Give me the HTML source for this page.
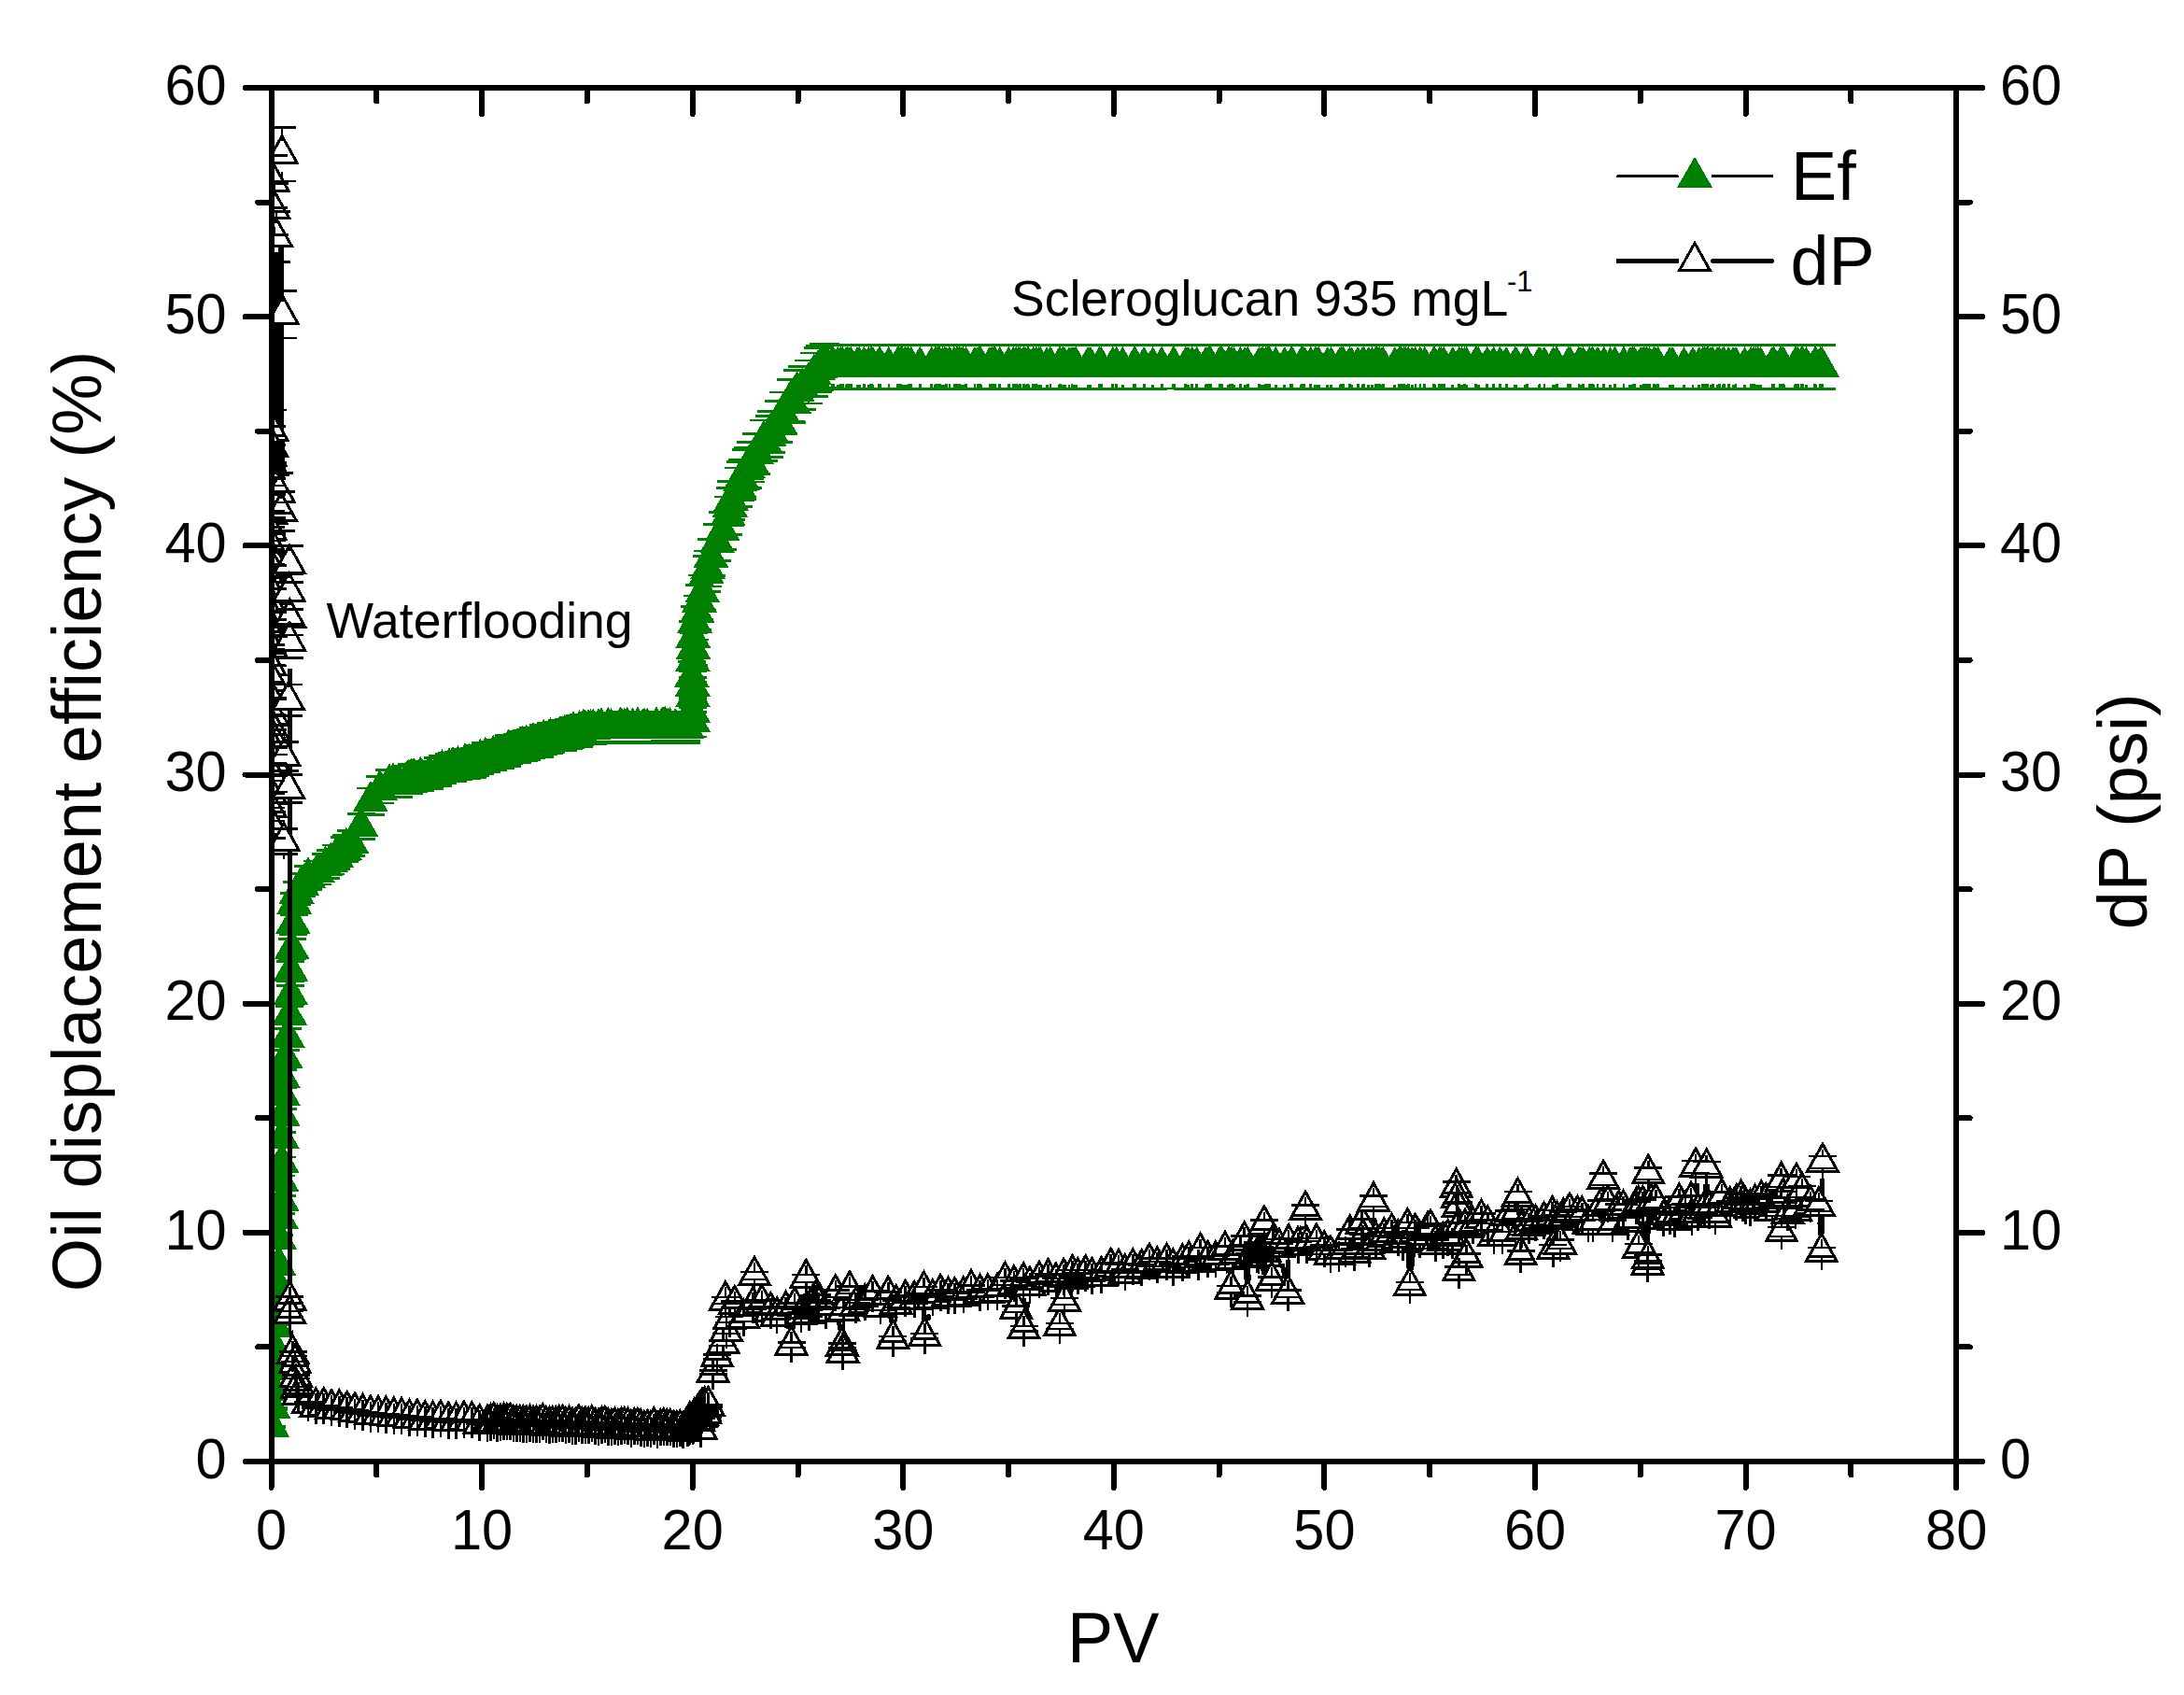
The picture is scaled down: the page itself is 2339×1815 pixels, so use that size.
<!DOCTYPE html>
<html lang="en"><head><meta charset="utf-8"><title>Oil displacement efficiency and dP vs PV</title>
<style>html,body{margin:0;padding:0;background:#fff}svg{display:block}</style></head>
<body>
<svg width="2339" height="1815" viewBox="0 0 2339 1815" shape-rendering="crispEdges">
<rect width="2339" height="1815" fill="#fff"/>
<defs><clipPath id="c"><rect x="290.5" y="94" width="1804.7" height="1471"/></clipPath></defs>
<g clip-path="url(#c)">
<path d="M291.4 1506.2l19 33h-38zM292.6 1486.4l19 33h-38zM293.2 1467.3l19 33h-38zM293.4 1445.3l19 33h-38zM294.3 1421.9l19 33h-38zM295.2 1399.3l19 33h-38zM296.4 1380l19 33h-38zM297 1353.5l19 33h-38zM298.4 1332.9l19 33h-38zM299.4 1305.3l19 33h-38zM301 1283l19 33h-38zM301.8 1264.1l19 33h-38zM301.4 1242.9l19 33h-38zM301.8 1223.4l19 33h-38zM301.9 1197l19 33h-38zM302.7 1172.9l19 33h-38zM302.8 1150.8l19 33h-38zM302.8 1131.8l19 33h-38zM305.8 1111.4l19 33h-38zM307.8 1088.8l19 33h-38zM310.1 1064.7l19 33h-38zM311.3 1043.4l19 33h-38zM311.4 1018.1l19 33h-38zM312.6 994.1l19 33h-38zM313.8 967.2l19 33h-38zM315.2 945.9l19 33h-38zM317.6 934.6l19 33h-38zM323.2 925.7l19 33h-38zM330 917.6l19 33h-38zM340.1 912.4l19 33h-38zM348.7 905.4l19 33h-38zM354.3 901.2l19 33h-38zM360 895.7l19 33h-38zM368.6 887.6l19 33h-38zM370.8 885.4l19 33h-38zM376.4 881l19 33h-38zM386.6 863.2l19 33h-38zM396.8 836.1l19 33h-38zM406.9 823.7l19 33h-38zM417.1 817.2l19 33h-38zM421.1 816.4l19 33h-38zM426.8 816.7l19 33h-38zM436.2 813.4l19 33h-38zM437.8 812.6l19 33h-38zM440.7 811.2l19 33h-38zM443 810.7l19 33h-38zM450.4 809.6l19 33h-38zM459.9 807.9l19 33h-38zM469.4 804.5l19 33h-38zM473.5 802.2l19 33h-38zM480.9 800.2l19 33h-38zM485 799.5l19 33h-38zM490.6 798l19 33h-38zM498 795.3l19 33h-38zM500.3 796.9l19 33h-38zM502.6 795.9l19 33h-38zM505.5 795.5l19 33h-38zM507.7 794.1l19 33h-38zM508.6 794.1l19 33h-38zM514.3 791.1l19 33h-38zM519.9 788.5l19 33h-38zM520.8 789.4l19 33h-38zM528.3 787.1l19 33h-38zM535.7 785.4l19 33h-38zM543.2 783.1l19 33h-38zM544.7 780.3l19 33h-38zM554.2 779.3l19 33h-38zM559.9 776.8l19 33h-38zM561.4 777.8l19 33h-38zM563.7 775.9l19 33h-38zM569.3 774.2l19 33h-38zM570.9 773.1l19 33h-38zM578.3 772.9l19 33h-38zM582.4 769.9l19 33h-38zM588 769.6l19 33h-38zM589.6 768.2l19 33h-38zM599.1 766.6l19 33h-38zM603.2 766.5l19 33h-38zM604.7 764.5l19 33h-38zM608.8 764.1l19 33h-38zM611.1 763.4l19 33h-38zM614 761.6l19 33h-38zM619.6 762.1l19 33h-38zM620.5 760.4l19 33h-38zM624.6 758.8l19 33h-38zM626.2 759.1l19 33h-38zM630.2 759.1l19 33h-38zM632.5 759.3l19 33h-38zM635.4 758.7l19 33h-38zM641.1 758l19 33h-38zM644 757.3l19 33h-38zM651.4 756.9l19 33h-38zM654.4 758.2l19 33h-38zM663.8 757.8l19 33h-38zM664.7 756.2l19 33h-38zM668.8 757.5l19 33h-38zM671.7 756.9l19 33h-38zM677.4 757.5l19 33h-38zM683 756.2l19 33h-38zM688.7 758.3l19 33h-38zM690.2 757.9l19 33h-38zM693.2 757.7l19 33h-38zM702.6 756.9l19 33h-38zM703.6 757.2l19 33h-38zM709.2 756.4l19 33h-38zM710.8 756.3l19 33h-38zM712.3 756.1l19 33h-38zM715.3 757.2l19 33h-38zM717.5 757.3l19 33h-38zM723.2 758.1l19 33h-38zM730.6 757.1l19 33h-38zM732.2 756.5l19 33h-38zM734.5 755.8l19 33h-38zM735.4 757.9l19 33h-38zM742.2 751.1l19 33h-38zM742.3 741.3l19 33h-38zM742 724.3l19 33h-38zM741.8 712.7l19 33h-38zM740.8 703l19 33h-38zM741.9 686.1l19 33h-38zM742.5 673l19 33h-38zM742.3 660.7l19 33h-38zM744 645l19 33h-38zM746.6 634.1l19 33h-38zM748.9 622.6l19 33h-38zM752.3 612.4l19 33h-38zM756.8 592.3l19 33h-38zM758.1 587l19 33h-38zM761.5 574.8l19 33h-38zM768.3 559l19 33h-38zM773.9 546.2l19 33h-38zM779.6 530.1l19 33h-38zM781.8 520.5l19 33h-38zM783.2 514l19 33h-38zM791.3 499.7l19 33h-38zM792.7 493.1l19 33h-38zM794.9 491.5l19 33h-38zM799.4 480.9l19 33h-38zM800.8 479l19 33h-38zM804.2 472.6l19 33h-38zM809.8 463.8l19 33h-38zM817.9 449.7l19 33h-38zM823.6 445.4l19 33h-38zM825.8 440.6l19 33h-38zM833.9 429.6l19 33h-38zM838.5 420.4l19 33h-38zM846.6 406.8l19 33h-38zM847.9 407.5l19 33h-38zM853.6 397.1l19 33h-38zM859.2 393.4l19 33h-38zM866 387l19 33h-38zM871.6 379l19 33h-38zM876.1 374l19 33h-38zM878.4 372l19 33h-38zM881.8 369.9l19 33h-38zM884 369.8l19 33h-38zM886.1 370.9l19 33h-38zM891 370.9l19 33h-38zM892.4 370.8l19 33h-38zM897.3 371.1l19 33h-38zM900.3 370.7l19 33h-38zM902.1 370.6l19 33h-38zM905.9 371.1l19 33h-38zM907.7 370.6l19 33h-38zM910 370.7l19 33h-38zM911.3 370.9l19 33h-38zM918.1 371.1l19 33h-38zM920.3 371.1l19 33h-38zM925.3 370.6l19 33h-38zM930.3 371l19 33h-38zM932.5 370.9l19 33h-38zM933.9 370.7l19 33h-38zM934.8 371l19 33h-38zM941.5 370.9l19 33h-38zM942.4 370.9l19 33h-38zM951.9 370.8l19 33h-38zM961.4 370.6l19 33h-38zM962.8 370.6l19 33h-38zM965 370.6l19 33h-38zM966.4 371.1l19 33h-38zM969.3 371.1l19 33h-38zM971.1 371l19 33h-38zM972.9 370.7l19 33h-38zM975.8 370.9l19 33h-38zM985.3 370.6l19 33h-38zM997.7 370.9l19 33h-38zM1001.6 371.1l19 33h-38zM1002.5 370.7l19 33h-38zM1004.3 370.9l19 33h-38zM1005.6 371l19 33h-38zM1006.5 370.8l19 33h-38zM1009.4 371.1l19 33h-38zM1011.7 371.1l19 33h-38zM1013.1 370.9l19 33h-38zM1016.9 370.6l19 33h-38zM1021.9 370.6l19 33h-38zM1024.8 370.8l19 33h-38zM1025.7 370.8l19 33h-38zM1027.9 370.6l19 33h-38zM1029.8 371l19 33h-38zM1031.6 371l19 33h-38zM1034.5 370.8l19 33h-38zM1044 370.7l19 33h-38zM1046.9 370.9l19 33h-38zM1048.7 371l19 33h-38zM1049.6 370.6l19 33h-38zM1050.5 371.1l19 33h-38zM1060 370.8l19 33h-38zM1062.2 370.8l19 33h-38zM1064.5 370.6l19 33h-38zM1065.8 370.8l19 33h-38zM1070.8 370.8l19 33h-38zM1080.3 370.7l19 33h-38zM1085.2 370.6l19 33h-38zM1088.2 370.7l19 33h-38zM1090.4 371l19 33h-38zM1092.2 370.9l19 33h-38zM1096.1 370.6l19 33h-38zM1097.9 371.1l19 33h-38zM1100.8 370.9l19 33h-38zM1101.7 371.1l19 33h-38zM1106.7 370.6l19 33h-38zM1109.6 370.8l19 33h-38zM1112.5 371.1l19 33h-38zM1114.3 371.1l19 33h-38zM1121.1 371.2l19 33h-38zM1124.9 370.6l19 33h-38zM1134.4 371l19 33h-38zM1135.3 370.6l19 33h-38zM1138.3 371l19 33h-38zM1140.1 371.2l19 33h-38zM1145 371.1l19 33h-38zM1148 370.9l19 33h-38zM1150.2 371l19 33h-38zM1151.1 371.1l19 33h-38zM1152.5 371.1l19 33h-38zM1164.9 371.1l19 33h-38zM1165.8 371l19 33h-38zM1168 371.1l19 33h-38zM1177.5 370.7l19 33h-38zM1179.3 370.8l19 33h-38zM1191.7 370.9l19 33h-38zM1195.6 370.7l19 33h-38zM1202.3 371.1l19 33h-38zM1214.7 370.8l19 33h-38zM1215.6 370.7l19 33h-38zM1225.1 370.8l19 33h-38zM1234.6 371.1l19 33h-38zM1244.1 370.7l19 33h-38zM1256.5 370.7l19 33h-38zM1257.4 370.7l19 33h-38zM1269.8 370.7l19 33h-38zM1272 371.1l19 33h-38zM1272.9 371.1l19 33h-38zM1276.8 370.6l19 33h-38zM1281.7 370.7l19 33h-38zM1291.2 371.1l19 33h-38zM1292.1 370.8l19 33h-38zM1294.4 370.9l19 33h-38zM1295.3 370.9l19 33h-38zM1296.6 370.7l19 33h-38zM1306.1 370.6l19 33h-38zM1307.4 370.8l19 33h-38zM1308.8 370.7l19 33h-38zM1315.6 371l19 33h-38zM1316.9 370.7l19 33h-38zM1319.2 370.7l19 33h-38zM1321.4 371l19 33h-38zM1328.2 370.9l19 33h-38zM1333.2 371.1l19 33h-38zM1336.1 370.7l19 33h-38zM1348.5 370.8l19 33h-38zM1350.8 371.1l19 33h-38zM1352.6 371l19 33h-38zM1355.5 370.8l19 33h-38zM1357.3 371.1l19 33h-38zM1358.2 370.9l19 33h-38zM1359.6 370.7l19 33h-38zM1366.3 371l19 33h-38zM1375.8 371l19 33h-38zM1382.6 370.9l19 33h-38zM1383.9 370.6l19 33h-38zM1393.4 371l19 33h-38zM1394.8 370.6l19 33h-38zM1395.7 371l19 33h-38zM1397 370.7l19 33h-38zM1403.8 370.6l19 33h-38zM1408.7 371l19 33h-38zM1411 371.1l19 33h-38zM1412.3 371.1l19 33h-38zM1421.8 371l19 33h-38zM1425.7 371.1l19 33h-38zM1435.1 371l19 33h-38zM1436.5 370.7l19 33h-38zM1438.7 370.9l19 33h-38zM1445.5 370.9l19 33h-38zM1447.3 371.2l19 33h-38zM1454.1 370.8l19 33h-38zM1459 371l19 33h-38zM1460.8 370.9l19 33h-38zM1465.8 371l19 33h-38zM1469.6 371.2l19 33h-38zM1473.5 370.7l19 33h-38zM1474.8 370.6l19 33h-38zM1477.1 370.7l19 33h-38zM1480 371l19 33h-38zM1481.4 370.9l19 33h-38zM1493.8 371.1l19 33h-38zM1498.7 370.7l19 33h-38zM1499.6 371l19 33h-38zM1500.6 370.7l19 33h-38zM1503.5 370.8l19 33h-38zM1505.3 371l19 33h-38zM1508.2 370.9l19 33h-38zM1512.1 371l19 33h-38zM1515.9 370.7l19 33h-38zM1520.9 370.6l19 33h-38zM1525.8 370.6l19 33h-38zM1535.3 370.8l19 33h-38zM1536.6 371.1l19 33h-38zM1541.6 370.9l19 33h-38zM1543.4 370.8l19 33h-38zM1546.3 370.9l19 33h-38zM1555.8 371.1l19 33h-38zM1562.6 370.9l19 33h-38zM1565.5 371l19 33h-38zM1568.5 370.9l19 33h-38zM1570.7 371l19 33h-38zM1580.2 370.8l19 33h-38zM1581.5 371.1l19 33h-38zM1583.3 371.1l19 33h-38zM1592.8 370.6l19 33h-38zM1599.6 370.8l19 33h-38zM1606.4 370.6l19 33h-38zM1613.1 370.9l19 33h-38zM1622.6 371l19 33h-38zM1623.9 371l19 33h-38zM1633.4 371.1l19 33h-38zM1635.7 370.9l19 33h-38zM1648.1 371l19 33h-38zM1649 370.7l19 33h-38zM1654 370.9l19 33h-38zM1663.4 371l19 33h-38zM1666.4 371l19 33h-38zM1667.3 370.9l19 33h-38zM1679.7 370.6l19 33h-38zM1681.5 370.7l19 33h-38zM1690.9 370.8l19 33h-38zM1693.2 371.1l19 33h-38zM1695.5 370.9l19 33h-38zM1702.2 370.9l19 33h-38zM1705.2 370.7l19 33h-38zM1706.1 371.1l19 33h-38zM1711 370.7l19 33h-38zM1717.8 370.6l19 33h-38zM1724.6 371.2l19 33h-38zM1729.5 370.6l19 33h-38zM1739 370.6l19 33h-38zM1745.8 371l19 33h-38zM1747.1 371l19 33h-38zM1748.9 370.8l19 33h-38zM1750.3 370.6l19 33h-38zM1757 371.1l19 33h-38zM1757.9 371.2l19 33h-38zM1759.8 371l19 33h-38zM1760.7 370.8l19 33h-38zM1763.6 370.6l19 33h-38zM1766.5 370.8l19 33h-38zM1771.5 370.7l19 33h-38zM1772.8 371.1l19 33h-38zM1775.8 370.8l19 33h-38zM1788.2 371l19 33h-38zM1791.1 371l19 33h-38zM1803.5 371.2l19 33h-38zM1813 371l19 33h-38zM1819.8 371l19 33h-38zM1823.6 370.8l19 33h-38zM1825.8 370.9l19 33h-38zM1828.1 370.8l19 33h-38zM1829 370.6l19 33h-38zM1831.9 371.1l19 33h-38zM1834.2 370.9l19 33h-38zM1839.2 371.1l19 33h-38zM1841.4 370.8l19 33h-38zM1845.2 371l19 33h-38zM1846.2 370.7l19 33h-38zM1851.1 370.9l19 33h-38zM1856.1 371l19 33h-38zM1859 370.7l19 33h-38zM1868.5 371.1l19 33h-38zM1875.3 370.6l19 33h-38zM1878.2 370.7l19 33h-38zM1880.4 371l19 33h-38zM1882.7 371l19 33h-38zM1885.6 371.1l19 33h-38zM1898 370.9l19 33h-38zM1899.8 370.6l19 33h-38zM1906.6 370.9l19 33h-38zM1907.5 370.6l19 33h-38zM1909.3 370.6l19 33h-38zM1910.2 371l19 33h-38zM1922.6 371.1l19 33h-38zM1923.5 370.7l19 33h-38zM1925.3 370.9l19 33h-38zM1929.2 370.7l19 33h-38zM1930.5 370.6l19 33h-38zM1934.4 371l19 33h-38zM1943.8 370.7l19 33h-38zM1944.7 371l19 33h-38zM1949.7 370.7l19 33h-38zM1951.3 370.9l19 33h-38z" fill="#008000"/>
<path d="M276.4 1527.5h30M276.4 1529h30M277.6 1507.2h30M277.6 1509.5h30M278.2 1487.8h30M278.2 1490.8h30M278.4 1465.3h30M278.4 1469.2h30M279.3 1441.5h30M279.3 1446.3h30M280.2 1418.4h30M280.2 1424.1h30M281.4 1398.8h30M281.4 1405.2h30M282 1371.7h30M282 1379.3h30M283.4 1350.8h30M283.4 1359.1h30M284.4 1322.5h30M284.4 1332h30M286 1299.8h30M286 1310.1h30M286.8 1280.6h30M286.8 1291.7h30M286.4 1258.9h30M286.4 1270.9h30M286.8 1239h30M286.8 1251.7h30M286.9 1212.1h30M286.9 1225.9h30M287.7 1187.5h30M287.7 1202.2h30M287.8 1165h30M287.8 1180.6h30M287.8 1145.7h30M287.8 1162h30M290.8 1124.8h30M290.8 1142h30M292.8 1101.8h30M292.8 1119.9h30M295.1 1077.2h30M295.1 1096.2h30M296.3 1055.4h30M296.3 1075.3h30M296.4 1029.7h30M296.4 1050.6h30M297.6 1005.2h30M297.6 1027h30M298.8 977.7h30M298.8 1000.6h30M300.2 956.1h30M300.2 979.8h30M302.6 944.5h30M302.6 968.7h30M308.2 935.4h30M308.2 960h30M315 927.2h30M315 952.1h30M325.1 921.9h30M325.1 947h30M333.7 914.7h30M333.7 940.1h30M339.3 910.4h30M339.3 935.9h30M345 904.9h30M345 930.6h30M353.6 896.6h30M353.6 922.6h30M355.8 894.3h30M355.8 920.5h30M361.4 889.8h30M361.4 916.2h30M371.6 871.6h30M371.6 898.7h30M381.8 844h30M381.8 872.2h30M391.9 831.4h30M391.9 860h30M402.1 824.8h30M402.1 853.6h30M406.1 824h30M406.1 852.9h30M411.8 824.2h30M411.8 853.1h30M421.2 820.9h30M421.2 849.9h30M422.8 820.1h30M422.8 849.2h30M425.7 818.7h30M425.7 847.8h30M428 818.1h30M428 847.3h30M435.4 817h30M435.4 846.2h30M444.9 815.2h30M444.9 844.5h30M454.4 811.8h30M454.4 841.2h30M458.5 809.5h30M458.5 839h30M465.9 807.5h30M465.9 837h30M470 806.7h30M470 836.3h30M475.6 805.2h30M475.6 834.9h30M483 802.5h30M483 832.2h30M485.3 804h30M485.3 833.7h30M487.6 803h30M487.6 832.8h30M490.5 802.6h30M490.5 832.4h30M492.7 801.2h30M492.7 831h30M493.6 801.2h30M493.6 831h30M499.3 798.2h30M499.3 828.1h30M504.9 795.5h30M504.9 825.5h30M505.8 796.4h30M505.8 826.4h30M513.3 794.1h30M513.3 824.1h30M520.7 792.3h30M520.7 822.5h30M528.2 790h30M528.2 820.2h30M529.7 787.1h30M529.7 817.5h30M539.2 786.2h30M539.2 816.5h30M544.9 783.5h30M544.9 814h30M546.4 784.6h30M546.4 815h30M548.7 782.6h30M548.7 813.2h30M554.3 780.9h30M554.3 811.5h30M555.9 779.8h30M555.9 810.5h30M563.3 779.6h30M563.3 810.3h30M567.4 776.5h30M567.4 807.3h30M573 776.2h30M573 806.9h30M574.6 774.8h30M574.6 805.6h30M584.1 773.1h30M584.1 804h30M588.2 773h30M588.2 803.9h30M589.7 771h30M589.7 801.9h30M593.8 770.6h30M593.8 801.6h30M596.1 769.9h30M596.1 800.9h30M599 768h30M599 799.1h30M604.6 768.6h30M604.6 799.6h30M605.5 766.8h30M605.5 798h30M609.6 765.2h30M609.6 796.4h30M611.2 765.5h30M611.2 796.7h30M615.2 765.5h30M615.2 796.7h30M617.5 765.7h30M617.5 796.9h30M620.4 765.1h30M620.4 796.3h30M626.1 764.3h30M626.1 795.6h30M629 763.7h30M629 795h30M636.4 763.3h30M636.4 794.5h30M639.4 764.6h30M639.4 795.8h30M648.8 764.1h30M648.8 795.4h30M649.7 762.6h30M649.7 793.9h30M653.8 763.8h30M653.8 795.1h30M656.7 763.3h30M656.7 794.5h30M662.4 763.8h30M662.4 795.1h30M668 762.5h30M668 793.9h30M673.7 764.7h30M673.7 795.9h30M675.2 764.3h30M675.2 795.6h30M678.2 764h30M678.2 795.3h30M687.6 763.3h30M687.6 794.5h30M688.6 763.6h30M688.6 794.9h30M694.2 762.8h30M694.2 794.1h30M695.8 762.7h30M695.8 794h30M697.3 762.5h30M697.3 793.8h30M700.3 763.6h30M700.3 794.8h30M702.5 763.6h30M702.5 794.9h30M708.2 764.5h30M708.2 795.7h30M715.6 763.5h30M715.6 794.8h30M717.2 762.8h30M717.2 794.1h30M719.5 762.2h30M719.5 793.5h30M720.4 764.3h30M720.4 795.5h30M727.2 757.4h30M727.2 788.9h30M727.3 747.3h30M727.3 779.2h30M727 730h30M727 762.6h30M726.8 718.2h30M726.8 751.2h30M725.8 708.3h30M725.8 741.7h30M726.9 691h30M726.9 725.1h30M727.5 677.7h30M727.5 712.3h30M727.3 665.1h30M727.3 700.2h30M729 649.1h30M729 684.9h30M731.6 638h30M731.6 674.2h30M733.9 626.3h30M733.9 662.9h30M737.3 615.9h30M737.3 652.9h30M752.3 652.9V652.9M741.8 595.4h30M741.8 633.2h30M756.8 632.8V633.2M743.1 589.9h30M743.1 628h30M758.1 627.5V628M746.5 577.6h30M746.5 616.1h30M761.5 615.3V616.1M753.3 561.4h30M753.3 600.5h30M768.3 599.5V600.5M758.9 548.4h30M758.9 588.1h30M773.9 586.7V588.1M764.6 531.9h30M764.6 572.2h30M779.6 570.6V572.2M766.8 522.1h30M766.8 562.8h30M781.8 561V562.8M768.2 515.6h30M768.2 556.5h30M783.2 554.5V556.5M776.3 500.9h30M776.3 542.4h30M791.3 540.2V542.4M777.7 494.2h30M777.7 536h30M792.7 533.6V536M779.9 492.6h30M779.9 534.4h30M794.9 532V534.4M784.4 481.8h30M784.4 524h30M799.4 521.4V524M785.8 479.8h30M785.8 522.2h30M800.8 519.5V522.2M789.2 473.3h30M789.2 515.9h30M804.2 513.1V515.9M794.8 464.4h30M794.8 507.3h30M809.8 504.3V507.3M802.9 450h30M802.9 493.5h30M817.9 490.2V493.5M808.6 445.5h30M808.6 489.2h30M823.6 485.9V489.2M810.8 440.7h30M810.8 484.6h30M825.8 481.1V484.6M818.9 429.4h30M818.9 473.7h30M833.9 470.1V473.7M823.5 420h30M823.5 464.7h30M838.5 460.9V464.7M831.6 406.2h30M831.6 451.4h30M846.6 447.3V451.4M832.9 406.9h30M832.9 452.1h30M847.9 448V452.1M838.6 396.3h30M838.6 441.9h30M853.6 437.6V441.9M844.2 392.5h30M844.2 438.2h30M859.2 433.9V438.2M851 386h30M851 432h30M866 427.5V432M856.6 377.9h30M856.6 424.2h30M871.6 419.5V424.2M861.1 372.8h30M861.1 419.3h30M876.1 414.5V419.3M863.4 370.7h30M863.4 417.3h30M878.4 412.5V417.3M866.8 368.5h30M866.8 415.2h30M881.8 410.4V415.2M869 368.5h30M869 415.2h30M884 410.3V415.2M871.1 369.6h30M871.1 416.2h30M886.1 411.4V416.2M876 369.6h30M876 416.2h30M891 411.4V416.2M877.4 369.4h30M877.4 416.1h30M892.4 411.3V416.1M882.3 369.8h30M882.3 416.4h30M897.3 411.6V416.4M885.3 369.4h30M885.3 416h30M900.3 411.2V416M887.1 369.3h30M887.1 415.9h30M902.1 411.1V415.9M890.9 369.7h30M890.9 416.4h30M905.9 411.6V416.4M892.7 369.3h30M892.7 415.9h30M907.7 411.1V415.9M895 369.4h30M895 416h30M910 411.2V416M896.3 369.6h30M896.3 416.2h30M911.3 411.4V416.2M903.1 369.7h30M903.1 416.4h30M918.1 411.6V416.4M905.3 369.7h30M905.3 416.4h30M920.3 411.6V416.4M910.3 369.2h30M910.3 415.9h30M925.3 411.1V415.9M915.3 369.6h30M915.3 416.3h30M930.3 411.5V416.3M917.5 369.6h30M917.5 416.3h30M932.5 411.4V416.3M918.9 369.4h30M918.9 416.1h30M933.9 411.2V416.1M919.8 369.6h30M919.8 416.3h30M934.8 411.5V416.3M926.5 369.6h30M926.5 416.2h30M941.5 411.4V416.2M927.4 369.6h30M927.4 416.3h30M942.4 411.4V416.3M936.9 369.5h30M936.9 416.1h30M951.9 411.3V416.1M946.4 369.3h30M946.4 415.9h30M961.4 411.1V415.9M947.8 369.2h30M947.8 415.9h30M962.8 411.1V415.9M950 369.2h30M950 415.9h30M965 411.1V415.9M951.4 369.8h30M951.4 416.4h30M966.4 411.6V416.4M954.3 369.8h30M954.3 416.4h30M969.3 411.6V416.4M956.1 369.7h30M956.1 416.3h30M971.1 411.5V416.3M957.9 369.3h30M957.9 416h30M972.9 411.2V416M960.8 369.6h30M960.8 416.2h30M975.8 411.4V416.2M970.3 369.3h30M970.3 415.9h30M985.3 411.1V415.9M982.7 369.5h30M982.7 416.2h30M997.7 411.4V416.2M986.6 369.8h30M986.6 416.4h30M1001.6 411.6V416.4M987.5 369.4h30M987.5 416h30M1002.5 411.2V416M989.3 369.6h30M989.3 416.2h30M1004.3 411.4V416.2M990.6 369.7h30M990.6 416.3h30M1005.6 411.5V416.3M991.5 369.5h30M991.5 416.1h30M1006.5 411.3V416.1M994.4 369.8h30M994.4 416.4h30M1009.4 411.6V416.4M996.7 369.8h30M996.7 416.4h30M1011.7 411.6V416.4M998.1 369.6h30M998.1 416.2h30M1013.1 411.4V416.2M1001.9 369.2h30M1001.9 415.9h30M1016.9 411.1V415.9M1006.9 369.3h30M1006.9 415.9h30M1021.9 411.1V415.9M1009.8 369.5h30M1009.8 416.1h30M1024.8 411.3V416.1M1010.7 369.5h30M1010.7 416.2h30M1025.7 411.3V416.2M1012.9 369.3h30M1012.9 415.9h30M1027.9 411.1V415.9M1014.8 369.7h30M1014.8 416.3h30M1029.8 411.5V416.3M1016.6 369.7h30M1016.6 416.4h30M1031.6 411.5V416.4M1019.5 369.5h30M1019.5 416.1h30M1034.5 411.3V416.1M1029 369.4h30M1029 416h30M1044 411.2V416M1031.9 369.6h30M1031.9 416.2h30M1046.9 411.4V416.2M1033.7 369.7h30M1033.7 416.3h30M1048.7 411.5V416.3M1034.6 369.2h30M1034.6 415.9h30M1049.6 411.1V415.9M1035.5 369.8h30M1035.5 416.5h30M1050.5 411.6V416.5M1045 369.5h30M1045 416.2h30M1060 411.3V416.2M1047.2 369.5h30M1047.2 416.2h30M1062.2 411.3V416.2M1049.5 369.3h30M1049.5 415.9h30M1064.5 411.1V415.9M1050.8 369.4h30M1050.8 416.1h30M1065.8 411.3V416.1M1055.8 369.4h30M1055.8 416.1h30M1070.8 411.3V416.1M1065.3 369.3h30M1065.3 416h30M1080.3 411.2V416M1070.2 369.3h30M1070.2 415.9h30M1085.2 411.1V415.9M1073.2 369.4h30M1073.2 416.1h30M1088.2 411.2V416.1M1075.4 369.6h30M1075.4 416.3h30M1090.4 411.5V416.3M1077.2 369.6h30M1077.2 416.2h30M1092.2 411.4V416.2M1081.1 369.2h30M1081.1 415.9h30M1096.1 411.1V415.9M1082.9 369.8h30M1082.9 416.5h30M1097.9 411.6V416.5M1085.8 369.6h30M1085.8 416.2h30M1100.8 411.4V416.2M1086.7 369.8h30M1086.7 416.4h30M1101.7 411.6V416.4M1091.7 369.3h30M1091.7 416h30M1106.7 411.1V416M1094.6 369.5h30M1094.6 416.1h30M1109.6 411.3V416.1M1097.5 369.8h30M1097.5 416.4h30M1112.5 411.6V416.4M1099.3 369.7h30M1099.3 416.4h30M1114.3 411.6V416.4M1106.1 369.8h30M1106.1 416.5h30M1121.1 411.7V416.5M1109.9 369.3h30M1109.9 415.9h30M1124.9 411.1V415.9M1119.4 369.6h30M1119.4 416.3h30M1134.4 411.5V416.3M1120.3 369.3h30M1120.3 415.9h30M1135.3 411.1V415.9M1123.3 369.7h30M1123.3 416.3h30M1138.3 411.5V416.3M1125.1 369.8h30M1125.1 416.5h30M1140.1 411.7V416.5M1130 369.8h30M1130 416.4h30M1145 411.6V416.4M1133 369.5h30M1133 416.2h30M1148 411.4V416.2M1135.2 369.7h30M1135.2 416.3h30M1150.2 411.5V416.3M1136.1 369.8h30M1136.1 416.4h30M1151.1 411.6V416.4M1137.5 369.7h30M1137.5 416.4h30M1152.5 411.6V416.4M1149.9 369.8h30M1149.9 416.4h30M1164.9 411.6V416.4M1150.8 369.7h30M1150.8 416.3h30M1165.8 411.5V416.3M1153 369.8h30M1153 416.4h30M1168 411.6V416.4M1162.5 369.3h30M1162.5 416h30M1177.5 411.2V416M1164.3 369.4h30M1164.3 416.1h30M1179.3 411.3V416.1M1176.7 369.6h30M1176.7 416.2h30M1191.7 411.4V416.2M1180.6 369.4h30M1180.6 416.1h30M1195.6 411.2V416.1M1187.3 369.7h30M1187.3 416.4h30M1202.3 411.6V416.4M1199.7 369.4h30M1199.7 416.1h30M1214.7 411.3V416.1M1200.6 369.3h30M1200.6 416h30M1215.6 411.2V416M1210.1 369.5h30M1210.1 416.1h30M1225.1 411.3V416.1M1219.6 369.7h30M1219.6 416.4h30M1234.6 411.6V416.4M1229.1 369.4h30M1229.1 416h30M1244.1 411.2V416M1241.5 369.3h30M1241.5 416h30M1256.5 411.2V416M1242.4 369.3h30M1242.4 416h30M1257.4 411.2V416M1254.8 369.4h30M1254.8 416h30M1269.8 411.2V416M1257 369.8h30M1257 416.4h30M1272 411.6V416.4M1257.9 369.8h30M1257.9 416.4h30M1272.9 411.6V416.4M1261.8 369.3h30M1261.8 415.9h30M1276.8 411.1V415.9M1266.7 369.3h30M1266.7 416h30M1281.7 411.2V416M1276.2 369.8h30M1276.2 416.4h30M1291.2 411.6V416.4M1277.1 369.5h30M1277.1 416.1h30M1292.1 411.3V416.1M1279.4 369.5h30M1279.4 416.2h30M1294.4 411.4V416.2M1280.3 369.6h30M1280.3 416.2h30M1295.3 411.4V416.2M1281.6 369.4h30M1281.6 416h30M1296.6 411.2V416M1291.1 369.3h30M1291.1 416h30M1306.1 411.1V416M1292.4 369.4h30M1292.4 416.1h30M1307.4 411.3V416.1M1293.8 369.4h30M1293.8 416h30M1308.8 411.2V416M1300.6 369.7h30M1300.6 416.3h30M1315.6 411.5V416.3M1301.9 369.3h30M1301.9 416h30M1316.9 411.2V416M1304.2 369.4h30M1304.2 416.1h30M1319.2 411.2V416.1M1306.4 369.7h30M1306.4 416.3h30M1321.4 411.5V416.3M1313.2 369.5h30M1313.2 416.2h30M1328.2 411.4V416.2M1318.2 369.8h30M1318.2 416.4h30M1333.2 411.6V416.4M1321.1 369.4h30M1321.1 416h30M1336.1 411.2V416M1333.5 369.5h30M1333.5 416.1h30M1348.5 411.3V416.1M1335.8 369.8h30M1335.8 416.4h30M1350.8 411.6V416.4M1337.6 369.6h30M1337.6 416.3h30M1352.6 411.5V416.3M1340.5 369.5h30M1340.5 416.1h30M1355.5 411.3V416.1M1342.3 369.8h30M1342.3 416.5h30M1357.3 411.6V416.5M1343.2 369.5h30M1343.2 416.2h30M1358.2 411.4V416.2M1344.6 369.4h30M1344.6 416.1h30M1359.6 411.2V416.1M1351.3 369.7h30M1351.3 416.3h30M1366.3 411.5V416.3M1360.8 369.7h30M1360.8 416.3h30M1375.8 411.5V416.3M1367.6 369.6h30M1367.6 416.2h30M1382.6 411.4V416.2M1368.9 369.2h30M1368.9 415.9h30M1383.9 411.1V415.9M1378.4 369.7h30M1378.4 416.4h30M1393.4 411.5V416.4M1379.8 369.3h30M1379.8 415.9h30M1394.8 411.1V415.9M1380.7 369.7h30M1380.7 416.3h30M1395.7 411.5V416.3M1382 369.3h30M1382 416h30M1397 411.2V416M1388.8 369.2h30M1388.8 415.9h30M1403.8 411.1V415.9M1393.7 369.7h30M1393.7 416.4h30M1408.7 411.5V416.4M1396 369.8h30M1396 416.4h30M1411 411.6V416.4M1397.3 369.7h30M1397.3 416.4h30M1412.3 411.6V416.4M1406.8 369.7h30M1406.8 416.3h30M1421.8 411.5V416.3M1410.7 369.8h30M1410.7 416.4h30M1425.7 411.6V416.4M1420.1 369.7h30M1420.1 416.3h30M1435.1 411.5V416.3M1421.5 369.4h30M1421.5 416.1h30M1436.5 411.2V416.1M1423.7 369.5h30M1423.7 416.2h30M1438.7 411.4V416.2M1430.5 369.6h30M1430.5 416.2h30M1445.5 411.4V416.2M1432.3 369.8h30M1432.3 416.5h30M1447.3 411.7V416.5M1439.1 369.4h30M1439.1 416.1h30M1454.1 411.3V416.1M1444 369.7h30M1444 416.3h30M1459 411.5V416.3M1445.8 369.6h30M1445.8 416.2h30M1460.8 411.4V416.2M1450.8 369.6h30M1450.8 416.3h30M1465.8 411.5V416.3M1454.6 369.8h30M1454.6 416.5h30M1469.6 411.7V416.5M1458.5 369.3h30M1458.5 416h30M1473.5 411.2V416M1459.8 369.3h30M1459.8 415.9h30M1474.8 411.1V415.9M1462.1 369.4h30M1462.1 416.1h30M1477.1 411.2V416.1M1465 369.7h30M1465 416.3h30M1480 411.5V416.3M1466.4 369.6h30M1466.4 416.2h30M1481.4 411.4V416.2M1478.8 369.8h30M1478.8 416.4h30M1493.8 411.6V416.4M1483.7 369.4h30M1483.7 416h30M1498.7 411.2V416M1484.6 369.7h30M1484.6 416.3h30M1499.6 411.5V416.3M1485.6 369.3h30M1485.6 416h30M1500.6 411.2V416M1488.5 369.5h30M1488.5 416.1h30M1503.5 411.3V416.1M1490.3 369.7h30M1490.3 416.3h30M1505.3 411.5V416.3M1493.2 369.6h30M1493.2 416.2h30M1508.2 411.4V416.2M1497.1 369.7h30M1497.1 416.4h30M1512.1 411.5V416.4M1500.9 369.4h30M1500.9 416h30M1515.9 411.2V416M1505.9 369.3h30M1505.9 416h30M1520.9 411.1V416M1510.8 369.3h30M1510.8 415.9h30M1525.8 411.1V415.9M1520.3 369.5h30M1520.3 416.2h30M1535.3 411.3V416.2M1521.6 369.8h30M1521.6 416.4h30M1536.6 411.6V416.4M1526.6 369.6h30M1526.6 416.2h30M1541.6 411.4V416.2M1528.4 369.4h30M1528.4 416.1h30M1543.4 411.3V416.1M1531.3 369.5h30M1531.3 416.2h30M1546.3 411.4V416.2M1540.8 369.8h30M1540.8 416.4h30M1555.8 411.6V416.4M1547.6 369.6h30M1547.6 416.2h30M1562.6 411.4V416.2M1550.5 369.7h30M1550.5 416.3h30M1565.5 411.5V416.3M1553.5 369.6h30M1553.5 416.2h30M1568.5 411.4V416.2M1555.7 369.7h30M1555.7 416.3h30M1570.7 411.5V416.3M1565.2 369.4h30M1565.2 416.1h30M1580.2 411.3V416.1M1566.5 369.7h30M1566.5 416.4h30M1581.5 411.6V416.4M1568.3 369.8h30M1568.3 416.4h30M1583.3 411.6V416.4M1577.8 369.3h30M1577.8 415.9h30M1592.8 411.1V415.9M1584.6 369.5h30M1584.6 416.2h30M1599.6 411.3V416.2M1591.4 369.3h30M1591.4 415.9h30M1606.4 411.1V415.9M1598.1 369.6h30M1598.1 416.2h30M1613.1 411.4V416.2M1607.6 369.7h30M1607.6 416.4h30M1622.6 411.5V416.4M1608.9 369.7h30M1608.9 416.4h30M1623.9 411.5V416.4M1618.4 369.8h30M1618.4 416.4h30M1633.4 411.6V416.4M1620.7 369.6h30M1620.7 416.3h30M1635.7 411.4V416.3M1633.1 369.7h30M1633.1 416.4h30M1648.1 411.5V416.4M1634 369.4h30M1634 416h30M1649 411.2V416M1639 369.6h30M1639 416.3h30M1654 411.4V416.3M1648.4 369.7h30M1648.4 416.4h30M1663.4 411.5V416.4M1651.4 369.6h30M1651.4 416.3h30M1666.4 411.5V416.3M1652.3 369.5h30M1652.3 416.2h30M1667.3 411.4V416.2M1664.7 369.3h30M1664.7 415.9h30M1679.7 411.1V415.9M1666.5 369.4h30M1666.5 416.1h30M1681.5 411.2V416.1M1675.9 369.5h30M1675.9 416.1h30M1690.9 411.3V416.1M1678.2 369.8h30M1678.2 416.4h30M1693.2 411.6V416.4M1680.5 369.6h30M1680.5 416.3h30M1695.5 411.4V416.3M1687.2 369.6h30M1687.2 416.2h30M1702.2 411.4V416.2M1690.2 369.3h30M1690.2 416h30M1705.2 411.2V416M1691.1 369.8h30M1691.1 416.4h30M1706.1 411.6V416.4M1696 369.4h30M1696 416.1h30M1711 411.2V416.1M1702.8 369.3h30M1702.8 415.9h30M1717.8 411.1V415.9M1709.6 369.8h30M1709.6 416.5h30M1724.6 411.7V416.5M1714.5 369.3h30M1714.5 415.9h30M1729.5 411.1V415.9M1724 369.3h30M1724 416h30M1739 411.1V416M1730.8 369.7h30M1730.8 416.3h30M1745.8 411.5V416.3M1732.1 369.7h30M1732.1 416.3h30M1747.1 411.5V416.3M1733.9 369.5h30M1733.9 416.2h30M1748.9 411.3V416.2M1735.3 369.3h30M1735.3 415.9h30M1750.3 411.1V415.9M1742 369.8h30M1742 416.4h30M1757 411.6V416.4M1742.9 369.8h30M1742.9 416.5h30M1757.9 411.7V416.5M1744.8 369.7h30M1744.8 416.3h30M1759.8 411.5V416.3M1745.7 369.4h30M1745.7 416.1h30M1760.7 411.3V416.1M1748.6 369.3h30M1748.6 415.9h30M1763.6 411.1V415.9M1751.5 369.5h30M1751.5 416.2h30M1766.5 411.3V416.2M1756.5 369.4h30M1756.5 416.1h30M1771.5 411.2V416.1M1757.8 369.8h30M1757.8 416.4h30M1772.8 411.6V416.4M1760.8 369.5h30M1760.8 416.2h30M1775.8 411.3V416.2M1773.2 369.7h30M1773.2 416.4h30M1788.2 411.5V416.4M1776.1 369.7h30M1776.1 416.3h30M1791.1 411.5V416.3M1788.5 369.8h30M1788.5 416.5h30M1803.5 411.7V416.5M1798 369.7h30M1798 416.3h30M1813 411.5V416.3M1804.8 369.7h30M1804.8 416.3h30M1819.8 411.5V416.3M1808.6 369.4h30M1808.6 416.1h30M1823.6 411.3V416.1M1810.8 369.5h30M1810.8 416.2h30M1825.8 411.4V416.2M1813.1 369.5h30M1813.1 416.2h30M1828.1 411.3V416.2M1814 369.3h30M1814 415.9h30M1829 411.1V415.9M1816.9 369.8h30M1816.9 416.4h30M1831.9 411.6V416.4M1819.2 369.5h30M1819.2 416.2h30M1834.2 411.4V416.2M1824.2 369.8h30M1824.2 416.4h30M1839.2 411.6V416.4M1826.4 369.4h30M1826.4 416.1h30M1841.4 411.3V416.1M1830.2 369.7h30M1830.2 416.3h30M1845.2 411.5V416.3M1831.2 369.4h30M1831.2 416.1h30M1846.2 411.2V416.1M1836.1 369.6h30M1836.1 416.3h30M1851.1 411.4V416.3M1841.1 369.7h30M1841.1 416.4h30M1856.1 411.5V416.4M1844 369.4h30M1844 416h30M1859 411.2V416M1853.5 369.8h30M1853.5 416.4h30M1868.5 411.6V416.4M1860.3 369.3h30M1860.3 415.9h30M1875.3 411.1V415.9M1863.2 369.4h30M1863.2 416h30M1878.2 411.2V416M1865.4 369.7h30M1865.4 416.3h30M1880.4 411.5V416.3M1867.7 369.7h30M1867.7 416.3h30M1882.7 411.5V416.3M1870.6 369.8h30M1870.6 416.4h30M1885.6 411.6V416.4M1883 369.5h30M1883 416.2h30M1898 411.4V416.2M1884.8 369.3h30M1884.8 416h30M1899.8 411.1V416M1891.6 369.6h30M1891.6 416.2h30M1906.6 411.4V416.2M1892.5 369.3h30M1892.5 415.9h30M1907.5 411.1V415.9M1894.3 369.3h30M1894.3 415.9h30M1909.3 411.1V415.9M1895.2 369.7h30M1895.2 416.3h30M1910.2 411.5V416.3M1907.6 369.7h30M1907.6 416.4h30M1922.6 411.6V416.4M1908.5 369.4h30M1908.5 416.1h30M1923.5 411.2V416.1M1910.3 369.6h30M1910.3 416.2h30M1925.3 411.4V416.2M1914.2 369.4h30M1914.2 416h30M1929.2 411.2V416M1915.5 369.3h30M1915.5 415.9h30M1930.5 411.1V415.9M1919.4 369.7h30M1919.4 416.4h30M1934.4 411.5V416.4M1928.8 369.4h30M1928.8 416h30M1943.8 411.2V416M1929.7 369.6h30M1929.7 416.3h30M1944.7 411.5V416.3M1934.7 369.3h30M1934.7 416h30M1949.7 411.2V416M1936.3 369.5h30M1936.3 416.2h30M1951.3 411.4V416.2" fill="none" stroke="#008000" stroke-width="2.8"/>
<path d="M311.7 1424.6L312.2 1432.3M844.3 1420.2L844.8 1422.9M849 1422.8L849.6 1416.1M860.2 1390.7L860.9 1386.2M864.6 1386.3L864.8 1388.8M897 1402.6L899.7 1423.8M902.9 1430.8L903 1421M953.2 1404.3L954.5 1416.2M957.9 1416.2L958.1 1413.9M989.7 1399.3L990 1413.4M993.9 1413.8L995.2 1407.3M1096.2 1389.9L1096.4 1405.3M1098.9 1405.5L1100.5 1394M1132.3 1390.1L1133.4 1402.7M1136.3 1402.7L1137.7 1385.3M1314.6 1356.2L1315.7 1363.3M1333.7 1345.9L1335.2 1373.7M1336.9 1373.7L1337.3 1364.6M1362.5 1353.8L1362.7 1349.3M1373.2 1353.1L1376 1368.1M1379.5 1367.8L1379.8 1348.8M1393.8 1316.8L1394.6 1312.9M1398.9 1313.3L1399 1316.2M1468 1320.2L1469.5 1303.7M1471.9 1303.7L1472.3 1310.8M1508 1331.7L1509.1 1359.5M1511.6 1359.5L1513.9 1337.4M1556.8 1311.5L1558.4 1289M1562.4 1331.7L1562.4 1343.3M1564.9 1343.5L1566.6 1332.4M1626.4 1299.1L1627.8 1326.4M1754.7 1307.9L1754.8 1319M1756.6 1319.1L1757.7 1307.6M1760.7 1307.6L1763.1 1337M1765 1330.5L1765.1 1274.3M1813.2 1286.2L1814.8 1266.9M1817 1266.9L1817.7 1281.1M1826.3 1277.6L1826.8 1267.9M1828.7 1267.9L1829.3 1279M1907.8 1282.2L1907.9 1301.6M1908.8 1301.6L1908.9 1299.4M1948.9 1308.9L1949.8 1323.2M1951 1323.2L1951.7 1262.1" fill="none" stroke="#000" stroke-width="5"/>
<path d="M310.6 716V1374" fill="none" stroke="#000" stroke-width="5.5"/>
<path d="M299.4 265V470M302.9 265V470" fill="none" stroke="#000" stroke-width="3"/>
<path d="M296.2 270V500" fill="none" stroke="#000" stroke-width="4.5"/>
<g fill="#fff" stroke="#000" stroke-width="3">
<path d="M292.6 174.9l16.4 29.4h-32.8z"/><path d="M293.5 204.3l16.4 29.4h-32.8z"/><path d="M295.8 233.8l16.4 29.4h-32.8z"/><path d="M291.7 442.1l16.4 29.4h-32.8z"/><path d="M291.3 459.3l16.4 29.4h-32.8z"/><path d="M289.8 469.1l16.4 29.4h-32.8z"/><path d="M291.2 478.6l16.4 29.4h-32.8z"/><path d="M291.7 496.9l16.4 29.4h-32.8z"/><path d="M291 513.9l16.4 29.4h-32.8z"/><path d="M290.7 530.9l16.4 29.4h-32.8z"/><path d="M289.9 548.4l16.4 29.4h-32.8z"/><path d="M290.3 564.7l16.4 29.4h-32.8z"/><path d="M291.3 579.3l16.4 29.4h-32.8z"/><path d="M292.4 591.4l16.4 29.4h-32.8z"/><path d="M292 605.3l16.4 29.4h-32.8z"/><path d="M292 616.6l16.4 29.4h-32.8z"/><path d="M291 629.6l16.4 29.4h-32.8z"/><path d="M292.7 643.3l16.4 29.4h-32.8z"/><path d="M290.3 652.6l16.4 29.4h-32.8z"/><path d="M291.9 661.9l16.4 29.4h-32.8z"/><path d="M290.8 674.4l16.4 29.4h-32.8z"/><path d="M289.7 693.5l16.4 29.4h-32.8z"/><path d="M292.3 710.4l16.4 29.4h-32.8z"/><path d="M290.7 729.1l16.4 29.4h-32.8z"/><path d="M291.9 745.7l16.4 29.4h-32.8z"/><path d="M293.3 763.2l16.4 29.4h-32.8z"/><path d="M292.8 772.5l16.4 29.4h-32.8z"/><path d="M292.4 782.2l16.4 29.4h-32.8z"/><path d="M292.6 795.9l16.4 29.4h-32.8z"/><path d="M293.2 813.2l16.4 29.4h-32.8z"/><path d="M290 830.8l16.4 29.4h-32.8z"/><path d="M289.5 844.9l16.4 29.4h-32.8z"/><path d="M290.7 863.7l16.4 29.4h-32.8z"/><path d="M302 145.5l16.4 29.4h-32.8z"/><path d="M302.7 317.1l16.4 29.4h-32.8z"/><path d="M298.9 508.3l16.4 29.4h-32.8z"/><path d="M301 528l16.4 29.4h-32.8z"/><path d="M310 584.3l16.4 29.4h-32.8z"/><path d="M309.5 613.8l16.4 29.4h-32.8z"/><path d="M310.4 642l16.4 29.4h-32.8z"/><path d="M310 666.7l16.4 29.4h-32.8z"/><path d="M309 730.2l16.4 29.4h-32.8z"/><path d="M304.6 790.3l16.4 29.4h-32.8z"/><path d="M309 824.9l16.4 29.4h-32.8z"/><path d="M304 881.5l16.4 29.4h-32.8z"/><path d="M310.4 1372.6l16.4 29.4h-32.8z"/><path d="M310.4 1387.5l16.4 29.4h-32.8z"/><path d="M313.5 1430.2l16.4 29.4h-32.8z"/><path d="M316 1440.5l16.4 29.4h-32.8z"/><path d="M317 1454.7l16.4 29.4h-32.8z"/><path d="M318 1466.9l16.4 29.4h-32.8z"/><path d="M319.5 1474.3l16.4 29.4h-32.8z"/><path d="M330 1482.9l16.4 29.4h-32.8z"/><path d="M338.3 1486.8l16.4 29.4h-32.8z"/><path d="M346.7 1486.5l16.4 29.4h-32.8z"/><path d="M355 1488.7l16.4 29.4h-32.8z"/><path d="M363.4 1488.9l16.4 29.4h-32.8z"/><path d="M371.7 1490.5l16.4 29.4h-32.8z"/><path d="M380.1 1491.9l16.4 29.4h-32.8z"/><path d="M388.4 1493.3l16.4 29.4h-32.8z"/><path d="M396.8 1495.1l16.4 29.4h-32.8z"/><path d="M405.1 1495.5l16.4 29.4h-32.8z"/><path d="M413.4 1495.9l16.4 29.4h-32.8z"/><path d="M421.8 1497l16.4 29.4h-32.8z"/><path d="M430.1 1497.5l16.4 29.4h-32.8z"/><path d="M438.5 1499.2l16.4 29.4h-32.8z"/><path d="M446.8 1499.1l16.4 29.4h-32.8z"/><path d="M455.2 1500.6l16.4 29.4h-32.8z"/><path d="M463.5 1501.3l16.4 29.4h-32.8z"/><path d="M471.9 1500.3l16.4 29.4h-32.8z"/><path d="M480.2 1502.2l16.4 29.4h-32.8z"/><path d="M488.6 1502.2l16.4 29.4h-32.8z"/><path d="M496.9 1501.1l16.4 29.4h-32.8z"/><path d="M505.3 1501.8l16.4 29.4h-32.8z"/><path d="M513.6 1504.7l16.4 29.4h-32.8z"/><path d="M522 1505.4l16.4 29.4h-32.8z"/><path d="M525.4 1504.2l16.4 29.4h-32.8z"/><path d="M528.9 1502.6l16.4 29.4h-32.8z"/><path d="M532.4 1505.3l16.4 29.4h-32.8z"/><path d="M535.9 1504.2l16.4 29.4h-32.8z"/><path d="M539.4 1503.3l16.4 29.4h-32.8z"/><path d="M542.9 1503.5l16.4 29.4h-32.8z"/><path d="M546.4 1503.5l16.4 29.4h-32.8z"/><path d="M549.9 1505.5l16.4 29.4h-32.8z"/><path d="M553.4 1505.6l16.4 29.4h-32.8z"/><path d="M556.9 1505.7l16.4 29.4h-32.8z"/><path d="M560.4 1505.9l16.4 29.4h-32.8z"/><path d="M563.9 1505.9l16.4 29.4h-32.8z"/><path d="M567.4 1505.3l16.4 29.4h-32.8z"/><path d="M570.9 1506.4l16.4 29.4h-32.8z"/><path d="M574.4 1506.3l16.4 29.4h-32.8z"/><path d="M577.9 1506.2l16.4 29.4h-32.8z"/><path d="M581.4 1503.8l16.4 29.4h-32.8z"/><path d="M584.9 1506.7l16.4 29.4h-32.8z"/><path d="M588.4 1507.3l16.4 29.4h-32.8z"/><path d="M591.9 1506.7l16.4 29.4h-32.8z"/><path d="M595.4 1506.8l16.4 29.4h-32.8z"/><path d="M598.9 1505.8l16.4 29.4h-32.8z"/><path d="M602.4 1505.4l16.4 29.4h-32.8z"/><path d="M605.9 1507.6l16.4 29.4h-32.8z"/><path d="M609.4 1506.3l16.4 29.4h-32.8z"/><path d="M612.9 1508.1l16.4 29.4h-32.8z"/><path d="M616.4 1508.4l16.4 29.4h-32.8z"/><path d="M619.9 1505.1l16.4 29.4h-32.8z"/><path d="M623.4 1507.8l16.4 29.4h-32.8z"/><path d="M626.9 1507.1l16.4 29.4h-32.8z"/><path d="M630.3 1507.5l16.4 29.4h-32.8z"/><path d="M633.8 1505.7l16.4 29.4h-32.8z"/><path d="M637.3 1508.4l16.4 29.4h-32.8z"/><path d="M640.8 1509.3l16.4 29.4h-32.8z"/><path d="M644.3 1507.2l16.4 29.4h-32.8z"/><path d="M647.8 1506.5l16.4 29.4h-32.8z"/><path d="M651.3 1509.1l16.4 29.4h-32.8z"/><path d="M654.8 1509.8l16.4 29.4h-32.8z"/><path d="M658.3 1508.2l16.4 29.4h-32.8z"/><path d="M661.8 1509.7l16.4 29.4h-32.8z"/><path d="M665.3 1508.2l16.4 29.4h-32.8z"/><path d="M668.8 1507.6l16.4 29.4h-32.8z"/><path d="M672.3 1508.2l16.4 29.4h-32.8z"/><path d="M675.8 1511l16.4 29.4h-32.8z"/><path d="M679.3 1508.6l16.4 29.4h-32.8z"/><path d="M682.8 1508.5l16.4 29.4h-32.8z"/><path d="M686.3 1510.1l16.4 29.4h-32.8z"/><path d="M689.8 1511.4l16.4 29.4h-32.8z"/><path d="M693.3 1510.4l16.4 29.4h-32.8z"/><path d="M696.8 1511.7l16.4 29.4h-32.8z"/><path d="M700.3 1508.1l16.4 29.4h-32.8z"/><path d="M703.8 1512.1l16.4 29.4h-32.8z"/><path d="M707.3 1509.5l16.4 29.4h-32.8z"/><path d="M710.8 1508.9l16.4 29.4h-32.8z"/><path d="M714.3 1509.5l16.4 29.4h-32.8z"/><path d="M717.8 1509.6l16.4 29.4h-32.8z"/><path d="M721.3 1511.4l16.4 29.4h-32.8z"/><path d="M724.8 1511.6l16.4 29.4h-32.8z"/><path d="M728.3 1510.6l16.4 29.4h-32.8z"/><path d="M731.7 1512.7l16.4 29.4h-32.8z"/><path d="M736.3 1510.1l16.4 29.4h-32.8z"/><path d="M737.5 1509.7l16.4 29.4h-32.8z"/><path d="M738.5 1505.7l16.4 29.4h-32.8z"/><path d="M737.8 1508l16.4 29.4h-32.8z"/><path d="M739.1 1508.1l16.4 29.4h-32.8z"/><path d="M738.8 1501.7l16.4 29.4h-32.8z"/><path d="M739.9 1506.8l16.4 29.4h-32.8z"/><path d="M739.2 1504l16.4 29.4h-32.8z"/><path d="M741.1 1505.5l16.4 29.4h-32.8z"/><path d="M740 1502.8l16.4 29.4h-32.8z"/><path d="M741.8 1502.1l16.4 29.4h-32.8z"/><path d="M741.5 1505.2l16.4 29.4h-32.8z"/><path d="M742.9 1503.2l16.4 29.4h-32.8z"/><path d="M741.9 1508l16.4 29.4h-32.8z"/><path d="M742.2 1502.4l16.4 29.4h-32.8z"/><path d="M743.1 1499.2l16.4 29.4h-32.8z"/><path d="M743.1 1507.3l16.4 29.4h-32.8z"/><path d="M743.5 1498.3l16.4 29.4h-32.8z"/><path d="M744.4 1500l16.4 29.4h-32.8z"/><path d="M745.7 1496.5l16.4 29.4h-32.8z"/><path d="M744.8 1502l16.4 29.4h-32.8z"/><path d="M745.2 1503.6l16.4 29.4h-32.8z"/><path d="M745.4 1500.9l16.4 29.4h-32.8z"/><path d="M747.1 1494.4l16.4 29.4h-32.8z"/><path d="M747.6 1499.3l16.4 29.4h-32.8z"/><path d="M748 1501.7l16.4 29.4h-32.8z"/><path d="M748.6 1498l16.4 29.4h-32.8z"/><path d="M748.5 1494.5l16.4 29.4h-32.8z"/><path d="M747.9 1494.3l16.4 29.4h-32.8z"/><path d="M749.4 1490.5l16.4 29.4h-32.8z"/><path d="M749.7 1490.6l16.4 29.4h-32.8z"/><path d="M750.1 1492.9l16.4 29.4h-32.8z"/><path d="M749.8 1494.9l16.4 29.4h-32.8z"/><path d="M750.8 1498.5l16.4 29.4h-32.8z"/><path d="M751.9 1495.9l16.4 29.4h-32.8z"/><path d="M751.3 1496.7l16.4 29.4h-32.8z"/><path d="M752.8 1487.5l16.4 29.4h-32.8z"/><path d="M751.8 1487.9l16.4 29.4h-32.8z"/><path d="M753.4 1488.4l16.4 29.4h-32.8z"/><path d="M753.5 1492.2l16.4 29.4h-32.8z"/><path d="M753.4 1490.9l16.4 29.4h-32.8z"/><path d="M754.6 1485.8l16.4 29.4h-32.8z"/><path d="M754.7 1491l16.4 29.4h-32.8z"/><path d="M754.4 1490.5l16.4 29.4h-32.8z"/><path d="M755 1488.5l16.4 29.4h-32.8z"/><path d="M755.1 1494l16.4 29.4h-32.8z"/><path d="M750.7 1511.1l16.4 29.4h-32.8z"/><path d="M758.6 1485.6l16.4 29.4h-32.8z"/><path d="M763.6 1449.8l16.4 29.4h-32.8z"/><path d="M768.1 1433.4l16.4 29.4h-32.8z"/><path d="M774.4 1418.6l16.4 29.4h-32.8z"/><path d="M777.8 1405.7l16.4 29.4h-32.8z"/><path d="M781.2 1393.4l16.4 29.4h-32.8z"/><path d="M776.9 1372.8l16.4 29.4h-32.8z"/><path d="M786.8 1377.4l16.4 29.4h-32.8z"/><path d="M796.3 1392.2l16.4 29.4h-32.8z"/><path d="M806.4 1378.8l16.4 29.4h-32.8z"/><path d="M808 1346.3l16.4 29.4h-32.8z"/><path d="M815.9 1376.3l16.4 29.4h-32.8z"/><path d="M825.4 1384.7l16.4 29.4h-32.8z"/><path d="M832.1 1389.8l16.4 29.4h-32.8z"/><path d="M841.6 1383.3l16.4 29.4h-32.8z"/><path d="M847.5 1420.6l16.4 29.4h-32.8z"/><path d="M851.1 1379l16.4 29.4h-32.8z"/><path d="M857.9 1388.5l16.4 29.4h-32.8z"/><path d="M863.3 1349.3l16.4 29.4h-32.8z"/><path d="M866.2 1386.6l16.4 29.4h-32.8z"/><path d="M870.3 1376.4l16.4 29.4h-32.8z"/><path d="M872.5 1377.5l16.4 29.4h-32.8z"/><path d="M874.5 1370.4l16.4 29.4h-32.8z"/><path d="M874.8 1376.4l16.4 29.4h-32.8z"/><path d="M877 1378.3l16.4 29.4h-32.8z"/><path d="M884.7 1384.7l16.4 29.4h-32.8z"/><path d="M894.8 1365.6l16.4 29.4h-32.8z"/><path d="M901.8 1421.6l16.4 29.4h-32.8z"/><path d="M902.7 1428.7l16.4 29.4h-32.8z"/><path d="M903.2 1383.9l16.4 29.4h-32.8z"/><path d="M910 1361.7l16.4 29.4h-32.8z"/><path d="M916.7 1378.7l16.4 29.4h-32.8z"/><path d="M926.2 1375.8l16.4 29.4h-32.8z"/><path d="M934.6 1366.6l16.4 29.4h-32.8z"/><path d="M942.9 1379.8l16.4 29.4h-32.8z"/><path d="M951.2 1367.3l16.4 29.4h-32.8z"/><path d="M956.4 1414l16.4 29.4h-32.8z"/><path d="M959.6 1376.8l16.4 29.4h-32.8z"/><path d="M969.7 1371.4l16.4 29.4h-32.8z"/><path d="M979.2 1372.4l16.4 29.4h-32.8z"/><path d="M989.4 1362.2l16.4 29.4h-32.8z"/><path d="M990.3 1411.3l16.4 29.4h-32.8z"/><path d="M998.8 1370.6l16.4 29.4h-32.8z"/><path d="M1007.2 1365.3l16.4 29.4h-32.8z"/><path d="M1015.5 1368.1l16.4 29.4h-32.8z"/><path d="M1022.3 1368.6l16.4 29.4h-32.8z"/><path d="M1031.8 1367.8l16.4 29.4h-32.8z"/><path d="M1040.1 1360.5l16.4 29.4h-32.8z"/><path d="M1049.6 1365.3l16.4 29.4h-32.8z"/><path d="M1057.9 1364.8l16.4 29.4h-32.8z"/><path d="M1068.1 1364.2l16.4 29.4h-32.8z"/><path d="M1076.4 1352.2l16.4 29.4h-32.8z"/><path d="M1085.9 1355.8l16.4 29.4h-32.8z"/><path d="M1088.2 1382.1l16.4 29.4h-32.8z"/><path d="M1096.1 1352.8l16.4 29.4h-32.8z"/><path d="M1096.5 1403.2l16.4 29.4h-32.8z"/><path d="M1102.8 1357.1l16.4 29.4h-32.8z"/><path d="M1113 1351.2l16.4 29.4h-32.8z"/><path d="M1122.5 1348.7l16.4 29.4h-32.8z"/><path d="M1130.8 1353.1l16.4 29.4h-32.8z"/><path d="M1134.9 1400.5l16.4 29.4h-32.8z"/><path d="M1139.2 1348.3l16.4 29.4h-32.8z"/><path d="M1140.1 1373.8l16.4 29.4h-32.8z"/><path d="M1147.5 1350.1l16.4 29.4h-32.8z"/><path d="M1148.6 1344.6l16.4 29.4h-32.8z"/><path d="M1154.3 1347.8l16.4 29.4h-32.8z"/><path d="M1162.6 1344.7l16.4 29.4h-32.8z"/><path d="M1169.4 1347.5l16.4 29.4h-32.8z"/><path d="M1179.5 1346.6l16.4 29.4h-32.8z"/><path d="M1189.7 1337.3l16.4 29.4h-32.8z"/><path d="M1198 1338.5l16.4 29.4h-32.8z"/><path d="M1204.8 1343.6l16.4 29.4h-32.8z"/><path d="M1213.2 1337.8l16.4 29.4h-32.8z"/><path d="M1222.6 1338.8l16.4 29.4h-32.8z"/><path d="M1231 1332.1l16.4 29.4h-32.8z"/><path d="M1239.3 1335.7l16.4 29.4h-32.8z"/><path d="M1249.5 1332.1l16.4 29.4h-32.8z"/><path d="M1256.2 1338l16.4 29.4h-32.8z"/><path d="M1266.4 1332.9l16.4 29.4h-32.8z"/><path d="M1273.2 1329.8l16.4 29.4h-32.8z"/><path d="M1283.3 1332.4l16.4 29.4h-32.8z"/><path d="M1285.6 1321.1l16.4 29.4h-32.8z"/><path d="M1293.5 1329.7l16.4 29.4h-32.8z"/><path d="M1301.8 1329.7l16.4 29.4h-32.8z"/><path d="M1312 1319.3l16.4 29.4h-32.8z"/><path d="M1318.3 1361l16.4 29.4h-32.8z"/><path d="M1320.3 1328.7l16.4 29.4h-32.8z"/><path d="M1328.7 1319.4l16.4 29.4h-32.8z"/><path d="M1332.7 1308.8l16.4 29.4h-32.8z"/><path d="M1336.1 1371.6l16.4 29.4h-32.8z"/><path d="M1338.1 1327.5l16.4 29.4h-32.8z"/><path d="M1346.2 1324.4l16.4 29.4h-32.8z"/><path d="M1346.5 1315.3l16.4 29.4h-32.8z"/><path d="M1347.8 1325.1l16.4 29.4h-32.8z"/><path d="M1349.4 1320.3l16.4 29.4h-32.8z"/><path d="M1351 1322.3l16.4 29.4h-32.8z"/><path d="M1352.6 1326.1l16.4 29.4h-32.8z"/><path d="M1353.9 1291.9l16.4 29.4h-32.8z"/><path d="M1354.1 1321l16.4 29.4h-32.8z"/><path d="M1354.8 1321.4l16.4 29.4h-32.8z"/><path d="M1355.7 1326.4l16.4 29.4h-32.8z"/><path d="M1362 1351.7l16.4 29.4h-32.8z"/><path d="M1363.2 1312.3l16.4 29.4h-32.8z"/><path d="M1369.9 1316.3l16.4 29.4h-32.8z"/><path d="M1379.2 1365.7l16.4 29.4h-32.8z"/><path d="M1380.1 1311.7l16.4 29.4h-32.8z"/><path d="M1390.2 1314.3l16.4 29.4h-32.8z"/><path d="M1398.1 1276.2l16.4 29.4h-32.8z"/><path d="M1399.7 1314.1l16.4 29.4h-32.8z"/><path d="M1409.9 1311.1l16.4 29.4h-32.8z"/><path d="M1418.2 1318.7l16.4 29.4h-32.8z"/><path d="M1425 1323.9l16.4 29.4h-32.8z"/><path d="M1434 1323.6l16.4 29.4h-32.8z"/><path d="M1440.8 1318l16.4 29.4h-32.8z"/><path d="M1445.7 1301.7l16.4 29.4h-32.8z"/><path d="M1450.7 1322.5l16.4 29.4h-32.8z"/><path d="M1458.4 1290.9l16.4 29.4h-32.8z"/><path d="M1459.7 1306.5l16.4 29.4h-32.8z"/><path d="M1466.5 1318.1l16.4 29.4h-32.8z"/><path d="M1471 1266.6l16.4 29.4h-32.8z"/><path d="M1473.3 1308.7l16.4 29.4h-32.8z"/><path d="M1482.3 1304.8l16.4 29.4h-32.8z"/><path d="M1490.6 1300.2l16.4 29.4h-32.8z"/><path d="M1497.4 1306.8l16.4 29.4h-32.8z"/><path d="M1502.4 1311.3l16.4 29.4h-32.8z"/><path d="M1507.3 1294.6l16.4 29.4h-32.8z"/><path d="M1509.8 1357.4l16.4 29.4h-32.8z"/><path d="M1515.7 1300.4l16.4 29.4h-32.8z"/><path d="M1520.6 1308l16.4 29.4h-32.8z"/><path d="M1529 1298.2l16.4 29.4h-32.8z"/><path d="M1532.1 1296.1l16.4 29.4h-32.8z"/><path d="M1537.3 1312.7l16.4 29.4h-32.8z"/><path d="M1545.7 1309.4l16.4 29.4h-32.8z"/><path d="M1550.6 1306.8l16.4 29.4h-32.8z"/><path d="M1555.6 1309.4l16.4 29.4h-32.8z"/><path d="M1559.7 1251.9l16.4 29.4h-32.8z"/><path d="M1560.6 1263.5l16.4 29.4h-32.8z"/><path d="M1561.5 1273.3l16.4 29.4h-32.8z"/><path d="M1562.4 1294.6l16.4 29.4h-32.8z"/><path d="M1562.4 1341.2l16.4 29.4h-32.8z"/><path d="M1569.1 1295.5l16.4 29.4h-32.8z"/><path d="M1570.7 1327.4l16.4 29.4h-32.8z"/><path d="M1577.5 1293.2l16.4 29.4h-32.8z"/><path d="M1586.5 1285.2l16.4 29.4h-32.8z"/><path d="M1593.3 1292l16.4 29.4h-32.8z"/><path d="M1600 1304.1l16.4 29.4h-32.8z"/><path d="M1609.1 1304.5l16.4 29.4h-32.8z"/><path d="M1615.8 1282.5l16.4 29.4h-32.8z"/><path d="M1622.6 1280.6l16.4 29.4h-32.8z"/><path d="M1625.5 1262l16.4 29.4h-32.8z"/><path d="M1628.7 1324.3l16.4 29.4h-32.8z"/><path d="M1629.4 1297.4l16.4 29.4h-32.8z"/><path d="M1637.7 1292.9l16.4 29.4h-32.8z"/><path d="M1644.5 1290.8l16.4 29.4h-32.8z"/><path d="M1653.5 1287.9l16.4 29.4h-32.8z"/><path d="M1662.5 1281.7l16.4 29.4h-32.8z"/><path d="M1663.4 1317.9l16.4 29.4h-32.8z"/><path d="M1667.5 1287.4l16.4 29.4h-32.8z"/><path d="M1671.1 1312.7l16.4 29.4h-32.8z"/><path d="M1674.3 1283.7l16.4 29.4h-32.8z"/><path d="M1681 1278l16.4 29.4h-32.8z"/><path d="M1689.4 1281.1l16.4 29.4h-32.8z"/><path d="M1694.3 1282.1l16.4 29.4h-32.8z"/><path d="M1701.1 1291.4l16.4 29.4h-32.8z"/><path d="M1706.1 1291.7l16.4 29.4h-32.8z"/><path d="M1715.1 1271.7l16.4 29.4h-32.8z"/><path d="M1717.1 1243.1l16.4 29.4h-32.8z"/><path d="M1721.9 1270l16.4 29.4h-32.8z"/><path d="M1726.8 1291.8l16.4 29.4h-32.8z"/><path d="M1733.6 1275.7l16.4 29.4h-32.8z"/><path d="M1738.5 1275.1l16.4 29.4h-32.8z"/><path d="M1743.5 1289.5l16.4 29.4h-32.8z"/><path d="M1752.5 1272.4l16.4 29.4h-32.8z"/><path d="M1754.6 1270.8l16.4 29.4h-32.8z"/><path d="M1755 1316.9l16.4 29.4h-32.8z"/><path d="M1759.3 1270.5l16.4 29.4h-32.8z"/><path d="M1764.5 1334.8l16.4 29.4h-32.8z"/><path d="M1764.9 1328.4l16.4 29.4h-32.8z"/><path d="M1765.2 1237.2l16.4 29.4h-32.8z"/><path d="M1768.3 1268.2l16.4 29.4h-32.8z"/><path d="M1773.3 1268.2l16.4 29.4h-32.8z"/><path d="M1781.6 1285.8l16.4 29.4h-32.8z"/><path d="M1788.4 1283.1l16.4 29.4h-32.8z"/><path d="M1793.4 1286.7l16.4 29.4h-32.8z"/><path d="M1798.3 1267.8l16.4 29.4h-32.8z"/><path d="M1805.1 1275.6l16.4 29.4h-32.8z"/><path d="M1811 1266.6l16.4 29.4h-32.8z"/><path d="M1811.9 1284l16.4 29.4h-32.8z"/><path d="M1816.1 1229.9l16.4 29.4h-32.8z"/><path d="M1818.6 1279l16.4 29.4h-32.8z"/><path d="M1825.4 1275.5l16.4 29.4h-32.8z"/><path d="M1827.7 1230.9l16.4 29.4h-32.8z"/><path d="M1830.4 1276.9l16.4 29.4h-32.8z"/><path d="M1837.1 1283.6l16.4 29.4h-32.8z"/><path d="M1843.9 1262.8l16.4 29.4h-32.8z"/><path d="M1852.9 1271.8l16.4 29.4h-32.8z"/><path d="M1859.7 1268.7l16.4 29.4h-32.8z"/><path d="M1864.6 1264.3l16.4 29.4h-32.8z"/><path d="M1866.7 1269.8l16.4 29.4h-32.8z"/><path d="M1869.6 1272.3l16.4 29.4h-32.8z"/><path d="M1874.6 1274.1l16.4 29.4h-32.8z"/><path d="M1879.5 1269.3l16.4 29.4h-32.8z"/><path d="M1886.3 1264.8l16.4 29.4h-32.8z"/><path d="M1891.3 1267.8l16.4 29.4h-32.8z"/><path d="M1898 1276.9l16.4 29.4h-32.8z"/><path d="M1903 1268.3l16.4 29.4h-32.8z"/><path d="M1907.7 1245.1l16.4 29.4h-32.8z"/><path d="M1908 1299.5l16.4 29.4h-32.8z"/><path d="M1909.8 1262.3l16.4 29.4h-32.8z"/><path d="M1914.7 1279.8l16.4 29.4h-32.8z"/><path d="M1923.1 1277.2l16.4 29.4h-32.8z"/><path d="M1924 1246.3l16.4 29.4h-32.8z"/><path d="M1929.8 1256.3l16.4 29.4h-32.8z"/><path d="M1938.9 1270.3l16.4 29.4h-32.8z"/><path d="M1947.9 1271.8l16.4 29.4h-32.8z"/><path d="M1950.8 1321.1l16.4 29.4h-32.8z"/><path d="M1952 1225l16.4 29.4h-32.8z"/>
</g>
<path d="M277.6 166.4h30M277.6 222.6h30M292.6 180.5V166.4M292.6 213.5V222.6M278.5 196.4h30M278.5 251.4h30M293.5 209.9V196.4M293.5 242.9V251.4M280.8 226.5h30M280.8 280.2h30M295.8 239.4V226.5M295.8 272.4V280.2M276.7 439.1h30M276.7 484.4h30M291.7 447.8V439.1M291.7 480.8V484.4M276.3 456.6h30M276.3 501.2h30M291.3 464.9V456.6M291.3 497.9V501.2M274.8 466.6h30M274.8 510.8h30M289.8 474.7V466.6M289.8 507.7V510.8M276.2 476.3h30M276.2 520h30M291.2 484.2V476.3M291.2 517.2V520M276.7 495h30M276.7 538h30M291.7 502.5V495M291.7 535.5V538M276 512.3h30M276 554.6h30M291 519.5V512.3M291 552.5V554.6M275.7 529.7h30M275.7 571.3h30M290.7 536.5V529.7M290.7 569.5V571.3M274.9 547.5h30M274.9 588.4h30M289.9 554V547.5M289.9 587V588.4M275.3 564.2h30M275.3 604.4h30M290.3 570.3V564.2M290.3 603.3V604.4M276.3 579.1h30M276.3 618.7h30M291.3 584.9V579.1M291.3 617.9V618.7M277.4 591.5h30M277.4 630.6h30M292.4 597V591.5M292.4 630V630.6M277 605.6h30M277 644.1h30M292 610.9V605.6M292 643.9V644.1M277 617.1h30M277 655.2h30M292 622.2V617.1M292 655.2V655.2M276 630.4h30M276 668h30M291 635.2V630.4M291 668.2V668M277.7 644.4h30M277.7 681.4h30M292.7 648.9V644.4M292.7 681.9V681.4M275.3 653.9h30M275.3 690.5h30M290.3 658.2V653.9M290.3 691.2V690.5M276.9 663.3h30M276.9 699.6h30M291.9 667.5V663.3M291.9 700.5V699.6M275.8 676.2h30M275.8 711.9h30M290.8 680V676.2M290.8 713V711.9M274.7 695.7h30M274.7 730.6h30M289.7 699.1V695.7M289.7 732.1V730.6M277.3 712.8h30M277.3 747.1h30M292.3 716V712.8M292.3 749V747.1M275.7 732h30M275.7 765.5h30M290.7 734.7V732M290.7 767.7V765.5M276.9 748.9h30M276.9 781.7h30M291.9 751.3V748.9M291.9 784.3V781.7M278.3 766.7h30M278.3 798.8h30M293.3 768.8V766.7M293.3 801.8V798.8M277.8 776.2h30M277.8 807.9h30M292.8 778.1V776.2M292.8 811.1V807.9M277.4 786.2h30M277.4 817.5h30M292.4 787.8V786.2M292.4 820.8V817.5M277.6 800.2h30M277.6 830.9h30M292.6 801.5V800.2M292.6 834.5V830.9M278.2 817.8h30M278.2 847.8h30M293.2 818.8V817.8M293.2 851.8V847.8M275 835.8h30M275 865.1h30M290 836.4V835.8M290 869.4V865.1M274.5 850.1h30M274.5 878.8h30M289.5 850.5V850.1M289.5 883.5V878.8M275.7 869.3h30M275.7 897.3h30M290.7 869.3V869.3M290.7 902.3V897.3M287 136.4h30M287 193.8h30M302 151.1V136.4M302 184.1V193.8M287.7 311.5h30M287.7 361.9h30M302.7 322.7V311.5M302.7 355.7V361.9M283.9 506.7h30M283.9 549.2h30M298.9 513.9V506.7M298.9 546.9V549.2M286 526.7h30M286 568.4h30M301 533.6V526.7M301 566.6V568.4M295 584.2h30M295 623.6h30M310 589.9V584.2M310 622.9V623.6M294.5 614.3h30M294.5 652.5h30M309.5 619.4V614.3M309.5 652.4V652.5M295.4 643h30M295.4 680.1h30M310.4 647.6V643M310.4 680.6V680.1M295 668.3h30M295 704.3h30M310 672.3V668.3M310 705.3V704.3M294 733.1h30M294 766.5h30M309 735.8V733.1M309 768.8V766.5M289.6 794.4h30M289.6 825.4h30M304.6 795.9V794.4M304.6 828.9V825.4M294 829.7h30M294 859.2h30M309 830.5V829.7M309 863.5V859.2M289 887.5h30M289 914.7h30M304 887.1V887.5M304 920.1V914.7M295.4 1388.6h30M295.4 1395.7h30M310.4 1378.2V1388.6M310.4 1411.2V1395.7M295.4 1403.9h30M295.4 1410.3h30M310.4 1393.1V1403.9M310.4 1426.1V1410.3M298.5 1447.4h30M298.5 1452.1h30M313.5 1435.8V1447.4M313.5 1468.8V1452.1M301 1457.9h30M301 1462.2h30M316 1446.1V1457.9M316 1479.1V1462.2M302 1472.4h30M302 1476.1h30M317 1460.3V1472.4M317 1493.3V1476.1M303 1484.9h30M303 1488.2h30M318 1472.5V1484.9M318 1505.5V1488.2M304.5 1492.4h30M304.5 1495.4h30M319.5 1479.9V1492.4M319.5 1512.9V1495.4M315 1501.2h30M315 1503.8h30M330 1488.5V1501.2M330 1521.5V1503.8M323.3 1505.2h30M323.3 1507.6h30M338.3 1492.4V1505.2M338.3 1525.4V1507.6M331.7 1504.8h30M331.7 1507.3h30M346.7 1492.1V1504.8M346.7 1525.1V1507.3M340 1507.2h30M340 1509.5h30M355 1494.3V1507.2M355 1527.3V1509.5M348.4 1507.3h30M348.4 1509.6h30M363.4 1494.5V1507.3M363.4 1527.5V1509.6M356.7 1509h30M356.7 1511.3h30M371.7 1496.1V1509M371.7 1529.1V1511.3M365.1 1510.4h30M365.1 1512.6h30M380.1 1497.5V1510.4M380.1 1530.5V1512.6M373.4 1511.9h30M373.4 1514h30M388.4 1498.9V1511.9M388.4 1531.9V1514M381.8 1513.7h30M381.8 1515.8h30M396.8 1500.7V1513.7M396.8 1533.7V1515.8M390.1 1514.1h30M390.1 1516.1h30M405.1 1501.1V1514.1M405.1 1534.1V1516.1M398.4 1514.5h30M398.4 1516.5h30M413.4 1501.5V1514.5M413.4 1534.5V1516.5M406.8 1515.6h30M406.8 1517.6h30M421.8 1502.6V1515.6M421.8 1535.6V1517.6M415.1 1516.1h30M415.1 1518h30M430.1 1503.1V1516.1M430.1 1536.1V1518M423.5 1517.9h30M423.5 1519.8h30M438.5 1504.8V1517.9M438.5 1537.8V1519.8M431.8 1517.7h30M431.8 1519.6h30M446.8 1504.7V1517.7M446.8 1537.7V1519.6M440.2 1519.3h30M440.2 1521.1h30M455.2 1506.2V1519.3M455.2 1539.2V1521.1M448.5 1520h30M448.5 1521.8h30M463.5 1506.9V1520M463.5 1539.9V1521.8M456.9 1519h30M456.9 1520.9h30M471.9 1505.9V1519M471.9 1538.9V1520.9M465.2 1520.9h30M465.2 1522.7h30M480.2 1507.8V1520.9M480.2 1540.8V1522.7M473.6 1520.9h30M473.6 1522.7h30M488.6 1507.8V1520.9M488.6 1540.8V1522.7M481.9 1519.8h30M481.9 1521.6h30M496.9 1506.7V1519.8M496.9 1539.7V1521.6M490.3 1520.5h30M490.3 1522.3h30M505.3 1507.4V1520.5M505.3 1540.4V1522.3M498.6 1523.5h30M498.6 1525.1h30M513.6 1510.3V1523.5M513.6 1543.3V1525.1M507 1524.2h30M507 1525.8h30M522 1511V1524.2M522 1544V1525.8M510.4 1523h30M510.4 1524.6h30M525.4 1509.8V1523M525.4 1542.8V1524.6M513.9 1521.3h30M513.9 1523.1h30M528.9 1508.2V1521.3M528.9 1541.2V1523.1M517.4 1524h30M517.4 1525.7h30M532.4 1510.9V1524M532.4 1543.9V1525.7M520.9 1522.9h30M520.9 1524.6h30M535.9 1509.8V1522.9M535.9 1542.8V1524.6M524.4 1522.1h30M524.4 1523.8h30M539.4 1508.9V1522.1M539.4 1541.9V1523.8M527.9 1522.2h30M527.9 1523.9h30M542.9 1509.1V1522.2M542.9 1542.1V1523.9M531.4 1522.2h30M531.4 1523.9h30M546.4 1509.1V1522.2M546.4 1542.1V1523.9M534.9 1524.2h30M534.9 1525.9h30M549.9 1511.1V1524.2M549.9 1544.1V1525.9M538.4 1524.4h30M538.4 1526h30M553.4 1511.2V1524.4M553.4 1544.2V1526M541.9 1524.5h30M541.9 1526.2h30M556.9 1511.3V1524.5M556.9 1544.3V1526.2M545.4 1524.7h30M545.4 1526.3h30M560.4 1511.5V1524.7M560.4 1544.5V1526.3M548.9 1524.7h30M548.9 1526.4h30M563.9 1511.5V1524.7M563.9 1544.5V1526.4M552.4 1524.1h30M552.4 1525.8h30M567.4 1510.9V1524.1M567.4 1543.9V1525.8M555.9 1525.2h30M555.9 1526.8h30M570.9 1512V1525.2M570.9 1545V1526.8M559.4 1525.1h30M559.4 1526.7h30M574.4 1511.9V1525.1M574.4 1544.9V1526.7M562.9 1525h30M562.9 1526.6h30M577.9 1511.8V1525M577.9 1544.8V1526.6M566.4 1522.6h30M566.4 1524.3h30M581.4 1509.4V1522.6M581.4 1542.4V1524.3M569.9 1525.6h30M569.9 1527.1h30M584.9 1512.3V1525.6M584.9 1545.3V1527.1M573.4 1526.1h30M573.4 1527.7h30M588.4 1512.9V1526.1M588.4 1545.9V1527.7M576.9 1525.5h30M576.9 1527.1h30M591.9 1512.3V1525.5M591.9 1545.3V1527.1M580.4 1525.6h30M580.4 1527.2h30M595.4 1512.4V1525.6M595.4 1545.4V1527.2M583.9 1524.6h30M583.9 1526.2h30M598.9 1511.4V1524.6M598.9 1544.4V1526.2M587.4 1524.2h30M587.4 1525.8h30M602.4 1511V1524.2M602.4 1544V1525.8M590.9 1526.4h30M590.9 1528h30M605.9 1513.2V1526.4M605.9 1546.2V1528M594.4 1525.1h30M594.4 1526.7h30M609.4 1511.9V1525.1M609.4 1544.9V1526.7M597.9 1526.9h30M597.9 1528.4h30M612.9 1513.7V1526.9M612.9 1546.7V1528.4M601.4 1527.2h30M601.4 1528.7h30M616.4 1514V1527.2M616.4 1547V1528.7M604.9 1523.8h30M604.9 1525.5h30M619.9 1510.7V1523.8M619.9 1543.7V1525.5M608.4 1526.6h30M608.4 1528.1h30M623.4 1513.4V1526.6M623.4 1546.4V1528.1M611.9 1525.9h30M611.9 1527.5h30M626.9 1512.7V1525.9M626.9 1545.7V1527.5M615.3 1526.3h30M615.3 1527.9h30M630.3 1513.1V1526.3M630.3 1546.1V1527.9M618.8 1524.5h30M618.8 1526.1h30M633.8 1511.3V1524.5M633.8 1544.3V1526.1M622.3 1527.2h30M622.3 1528.7h30M637.3 1514V1527.2M637.3 1547V1528.7M625.8 1528.1h30M625.8 1529.6h30M640.8 1514.9V1528.1M640.8 1547.9V1529.6M629.3 1526.1h30M629.3 1527.6h30M644.3 1512.8V1526.1M644.3 1545.8V1527.6M632.8 1525.3h30M632.8 1526.9h30M647.8 1512.1V1525.3M647.8 1545.1V1526.9M636.3 1528h30M636.3 1529.5h30M651.3 1514.7V1528M651.3 1547.7V1529.5M639.8 1528.6h30M639.8 1530.1h30M654.8 1515.4V1528.6M654.8 1548.4V1530.1M643.3 1527h30M643.3 1528.6h30M658.3 1513.8V1527M658.3 1546.8V1528.6M646.8 1528.5h30M646.8 1530h30M661.8 1515.3V1528.5M661.8 1548.3V1530M650.3 1527h30M650.3 1528.5h30M665.3 1513.8V1527M665.3 1546.8V1528.5M653.8 1526.5h30M653.8 1528h30M668.8 1513.2V1526.5M668.8 1546.2V1528M657.3 1527.1h30M657.3 1528.6h30M672.3 1513.8V1527.1M672.3 1546.8V1528.6M660.8 1529.9h30M660.8 1531.3h30M675.8 1516.6V1529.9M675.8 1549.6V1531.3M664.3 1527.5h30M664.3 1529h30M679.3 1514.2V1527.5M679.3 1547.2V1529M667.8 1527.3h30M667.8 1528.9h30M682.8 1514.1V1527.3M682.8 1547.1V1528.9M671.3 1528.9h30M671.3 1530.4h30M686.3 1515.7V1528.9M686.3 1548.7V1530.4M674.8 1530.4h30M674.8 1531.7h30M689.8 1517V1530.4M689.8 1550V1531.7M678.3 1529.3h30M678.3 1530.7h30M693.3 1516V1529.3M693.3 1549V1530.7M681.8 1530.6h30M681.8 1532h30M696.8 1517.3V1530.6M696.8 1550.3V1532M685.3 1527h30M685.3 1528.5h30M700.3 1513.7V1527M700.3 1546.7V1528.5M688.8 1531h30M688.8 1532.3h30M703.8 1517.7V1531M703.8 1550.7V1532.3M692.3 1528.4h30M692.3 1529.8h30M707.3 1515.1V1528.4M707.3 1548.1V1529.8M695.8 1527.8h30M695.8 1529.3h30M710.8 1514.5V1527.8M710.8 1547.5V1529.3M699.3 1528.3h30M699.3 1529.8h30M714.3 1515.1V1528.3M714.3 1548.1V1529.8M702.8 1528.5h30M702.8 1529.9h30M717.8 1515.2V1528.5M717.8 1548.2V1529.9M706.3 1530.3h30M706.3 1531.7h30M721.3 1517V1530.3M721.3 1550V1531.7M709.8 1530.5h30M709.8 1531.9h30M724.8 1517.2V1530.5M724.8 1550.2V1531.9M713.3 1529.5h30M713.3 1530.9h30M728.3 1516.2V1529.5M728.3 1549.2V1530.9M716.7 1531.7h30M716.7 1533h30M731.7 1518.3V1531.7M731.7 1551.3V1533M721.3 1529h30M721.3 1530.5h30M736.3 1515.7V1529M736.3 1548.7V1530.5M722.5 1528.6h30M722.5 1530h30M737.5 1515.3V1528.6M737.5 1548.3V1530M723.5 1524.5h30M723.5 1526.1h30M738.5 1511.3V1524.5M738.5 1544.3V1526.1M722.8 1526.9h30M722.8 1528.4h30M737.8 1513.6V1526.9M737.8 1546.6V1528.4M724.1 1526.9h30M724.1 1528.4h30M739.1 1513.7V1526.9M739.1 1546.7V1528.4M723.8 1520.4h30M723.8 1522.2h30M738.8 1507.3V1520.4M738.8 1540.3V1522.2M724.9 1525.7h30M724.9 1527.2h30M739.9 1512.4V1525.7M739.9 1545.4V1527.2M724.2 1522.7h30M724.2 1524.4h30M739.2 1509.6V1522.7M739.2 1542.6V1524.4M726.1 1524.3h30M726.1 1525.9h30M741.1 1511.1V1524.3M741.1 1544.1V1525.9M725 1521.6h30M725 1523.3h30M740 1508.4V1521.6M740 1541.4V1523.3M726.8 1520.8h30M726.8 1522.6h30M741.8 1507.7V1520.8M741.8 1540.7V1522.6M726.5 1524h30M726.5 1525.6h30M741.5 1510.8V1524M741.5 1543.8V1525.6M727.9 1522h30M727.9 1523.7h30M742.9 1508.8V1522M742.9 1541.8V1523.7M726.9 1526.9h30M726.9 1528.4h30M741.9 1513.6V1526.9M741.9 1546.6V1528.4M727.2 1521.2h30M727.2 1522.9h30M742.2 1508V1521.2M742.2 1541V1522.9M728.1 1517.9h30M728.1 1519.7h30M743.1 1504.8V1517.9M743.1 1537.8V1519.7M728.1 1526.2h30M728.1 1527.7h30M743.1 1512.9V1526.2M743.1 1545.9V1527.7M728.5 1517h30M728.5 1518.9h30M743.5 1503.9V1517M743.5 1536.9V1518.9M729.4 1518.6h30M729.4 1520.5h30M744.4 1505.6V1518.6M744.4 1538.6V1520.5M730.7 1515.1h30M730.7 1517.1h30M745.7 1502.1V1515.1M745.7 1535.1V1517.1M729.8 1520.7h30M729.8 1522.5h30M744.8 1507.6V1520.7M744.8 1540.6V1522.5M730.2 1522.3h30M730.2 1524h30M745.2 1509.2V1522.3M745.2 1542.2V1524M730.4 1519.6h30M730.4 1521.4h30M745.4 1506.5V1519.6M745.4 1539.5V1521.4M732.1 1512.9h30M732.1 1515h30M747.1 1500V1512.9M747.1 1533V1515M732.6 1518h30M732.6 1519.9h30M747.6 1504.9V1518M747.6 1537.9V1519.9M733 1520.4h30M733 1522.2h30M748 1507.3V1520.4M748 1540.3V1522.2M733.6 1516.6h30M733.6 1518.6h30M748.6 1503.6V1516.6M748.6 1536.6V1518.6M733.5 1513.1h30M733.5 1515.2h30M748.5 1500.1V1513.1M748.5 1533.1V1515.2M732.9 1512.8h30M732.9 1514.9h30M747.9 1499.9V1512.8M747.9 1532.9V1514.9M734.4 1509h30M734.4 1511.3h30M749.4 1496.1V1509M749.4 1529.1V1511.3M734.7 1509h30M734.7 1511.3h30M749.7 1496.2V1509M749.7 1529.2V1511.3M735.1 1511.4h30M735.1 1513.5h30M750.1 1498.5V1511.4M750.1 1531.5V1513.5M734.8 1513.4h30M734.8 1515.5h30M749.8 1500.5V1513.4M749.8 1533.5V1515.5M735.8 1517.1h30M735.8 1519h30M750.8 1504.1V1517.1M750.8 1537.1V1519M736.9 1514.5h30M736.9 1516.6h30M751.9 1501.5V1514.5M751.9 1534.5V1516.6M736.3 1515.4h30M736.3 1517.3h30M751.3 1502.3V1515.4M751.3 1535.3V1517.3M737.8 1505.9h30M737.8 1508.3h30M752.8 1493.1V1505.9M752.8 1526.1V1508.3M736.8 1506.3h30M736.8 1508.6h30M751.8 1493.5V1506.3M751.8 1526.5V1508.6M738.4 1506.9h30M738.4 1509.2h30M753.4 1494V1506.9M753.4 1527V1509.2M738.5 1510.7h30M738.5 1512.9h30M753.5 1497.8V1510.7M753.5 1530.8V1512.9M738.4 1509.3h30M738.4 1511.6h30M753.4 1496.5V1509.3M753.4 1529.5V1511.6M739.6 1504.2h30M739.6 1506.6h30M754.6 1491.4V1504.2M754.6 1524.4V1506.6M739.7 1509.5h30M739.7 1511.7h30M754.7 1496.6V1509.5M754.7 1529.6V1511.7M739.4 1509h30M739.4 1511.2h30M754.4 1496.1V1509M754.4 1529.1V1511.2M740 1506.9h30M740 1509.2h30M755 1494.1V1506.9M755 1527.1V1509.2M740.1 1512.6h30M740.1 1514.7h30M755.1 1499.6V1512.6M755.1 1532.6V1514.7M735.7 1530h30M735.7 1531.4h30M750.7 1516.7V1530M750.7 1549.7V1531.4M743.6 1504h30M743.6 1506.4h30M758.6 1491.2V1504M758.6 1524.2V1506.4M748.6 1467.4h30M748.6 1471.3h30M763.6 1455.4V1467.4M763.6 1488.4V1471.3M753.1 1450.7h30M753.1 1455.3h30M768.1 1439V1450.7M768.1 1472V1455.3M759.4 1435.7h30M759.4 1440.8h30M774.4 1424.2V1435.7M774.4 1457.2V1440.8M762.8 1422.4h30M762.8 1428.1h30M777.8 1411.3V1422.4M777.8 1444.3V1428.1M766.2 1409.9h30M766.2 1416.1h30M781.2 1399V1409.9M781.2 1432V1416.1M761.9 1388.9h30M761.9 1395.9h30M776.9 1378.4V1388.9M776.9 1411.4V1395.9M771.8 1393.5h30M771.8 1400.4h30M786.8 1383V1393.5M786.8 1416V1400.4M781.3 1408.7h30M781.3 1415h30M796.3 1397.8V1408.7M796.3 1430.8V1415M791.4 1395h30M791.4 1401.8h30M806.4 1384.4V1395M806.4 1417.4V1401.8M793 1361.8h30M793 1370h30M808 1351.9V1361.8M808 1384.9V1370M800.9 1392.4h30M800.9 1399.4h30M815.9 1381.9V1392.4M815.9 1414.9V1399.4M810.4 1401h30M810.4 1407.6h30M825.4 1390.3V1401M825.4 1423.3V1407.6M817.1 1406.2h30M817.1 1412.6h30M832.1 1395.4V1406.2M832.1 1428.4V1412.6M826.6 1399.6h30M826.6 1406.3h30M841.6 1388.9V1399.6M841.6 1421.9V1406.3M832.5 1437.7h30M832.5 1442.8h30M847.5 1426.2V1437.7M847.5 1459.2V1442.8M836.1 1395.2h30M836.1 1402h30M851.1 1384.6V1395.2M851.1 1417.6V1402M842.9 1404.8h30M842.9 1411.3h30M857.9 1394.1V1404.8M857.9 1427.1V1411.3M848.3 1364.8h30M848.3 1372.9h30M863.3 1354.9V1364.8M863.3 1387.9V1372.9M851.2 1403h30M851.2 1409.5h30M866.2 1392.2V1403M866.2 1425.2V1409.5M855.3 1392.5h30M855.3 1399.4h30M870.3 1382V1392.5M870.3 1415V1399.4M857.5 1393.7h30M857.5 1400.5h30M872.5 1383.1V1393.7M872.5 1416.1V1400.5M859.5 1386.4h30M859.5 1393.6h30M874.5 1376V1386.4M874.5 1409V1393.6M859.8 1392.5h30M859.8 1399.5h30M874.8 1382V1392.5M874.8 1415V1399.5M862 1394.5h30M862 1401.4h30M877 1383.9V1394.5M877 1416.9V1401.4M869.7 1401h30M869.7 1407.6h30M884.7 1390.3V1401M884.7 1423.3V1407.6M879.8 1381.5h30M879.8 1388.9h30M894.8 1371.2V1381.5M894.8 1404.2V1388.9M886.8 1438.7h30M886.8 1443.7h30M901.8 1427.2V1438.7M901.8 1460.2V1443.7M887.7 1445.9h30M887.7 1450.7h30M902.7 1434.3V1445.9M902.7 1467.3V1450.7M888.2 1400.1h30M888.2 1406.8h30M903.2 1389.5V1400.1M903.2 1422.5V1406.8M895 1377.5h30M895 1385.1h30M910 1367.3V1377.5M910 1400.3V1385.1M901.7 1394.9h30M901.7 1401.7h30M916.7 1384.3V1394.9M916.7 1417.3V1401.7M911.2 1391.9h30M911.2 1398.9h30M926.2 1381.4V1391.9M926.2 1414.4V1398.9M919.6 1382.5h30M919.6 1389.8h30M934.6 1372.2V1382.5M934.6 1405.2V1389.8M927.9 1396h30M927.9 1402.8h30M942.9 1385.4V1396M942.9 1418.4V1402.8M936.2 1383.3h30M936.2 1390.6h30M951.2 1372.9V1383.3M951.2 1405.9V1390.6M941.4 1430.9h30M941.4 1436.3h30M956.4 1419.6V1430.9M956.4 1452.6V1436.3M944.6 1393h30M944.6 1399.9h30M959.6 1382.4V1393M959.6 1415.4V1399.9M954.7 1387.4h30M954.7 1394.6h30M969.7 1377V1387.4M969.7 1410V1394.6M964.2 1388.5h30M964.2 1395.6h30M979.2 1378V1388.5M979.2 1411V1395.6M974.4 1378.1h30M974.4 1385.6h30M989.4 1367.8V1378.1M989.4 1400.8V1385.6M975.3 1428.1h30M975.3 1433.6h30M990.3 1416.9V1428.1M990.3 1449.9V1433.6M983.8 1386.6h30M983.8 1393.8h30M998.8 1376.2V1386.6M998.8 1409.2V1393.8M992.2 1381.3h30M992.2 1388.6h30M1007.2 1370.9V1381.3M1007.2 1403.9V1388.6M1000.5 1384.1h30M1000.5 1391.4h30M1015.5 1373.7V1384.1M1015.5 1406.7V1391.4M1007.3 1384.6h30M1007.3 1391.8h30M1022.3 1374.2V1384.6M1022.3 1407.2V1391.8M1016.8 1383.7h30M1016.8 1391h30M1031.8 1373.4V1383.7M1031.8 1406.4V1391M1025.1 1376.4h30M1025.1 1383.9h30M1040.1 1366.1V1376.4M1040.1 1399.1V1383.9M1034.6 1381.2h30M1034.6 1388.6h30M1049.6 1370.9V1381.2M1049.6 1403.9V1388.6M1042.9 1380.7h30M1042.9 1388.1h30M1057.9 1370.4V1380.7M1057.9 1403.4V1388.1M1053.1 1380.1h30M1053.1 1387.5h30M1068.1 1369.8V1380.1M1068.1 1402.8V1387.5M1061.4 1367.9h30M1061.4 1375.8h30M1076.4 1357.8V1367.9M1076.4 1390.8V1375.8M1070.9 1371.5h30M1070.9 1379.3h30M1085.9 1361.4V1371.5M1085.9 1394.4V1379.3M1073.2 1398.4h30M1073.2 1405.1h30M1088.2 1387.7V1398.4M1088.2 1420.7V1405.1M1081.1 1368.5h30M1081.1 1376.4h30M1096.1 1358.4V1368.5M1096.1 1391.4V1376.4M1081.5 1419.9h30M1081.5 1425.7h30M1096.5 1408.8V1419.9M1096.5 1441.8V1425.7M1087.8 1372.8h30M1087.8 1380.5h30M1102.8 1362.7V1372.8M1102.8 1395.7V1380.5M1098 1366.9h30M1098 1374.8h30M1113 1356.8V1366.9M1113 1389.8V1374.8M1107.5 1364.2h30M1107.5 1372.3h30M1122.5 1354.3V1364.2M1122.5 1387.3V1372.3M1115.8 1368.8h30M1115.8 1376.6h30M1130.8 1358.7V1368.8M1130.8 1391.7V1376.6M1119.9 1417.1h30M1119.9 1423.1h30M1134.9 1406.1V1417.1M1134.9 1439.1V1423.1M1124.2 1363.9h30M1124.2 1371.9h30M1139.2 1353.9V1363.9M1139.2 1386.9V1371.9M1125.1 1389.9h30M1125.1 1396.9h30M1140.1 1379.4V1389.9M1140.1 1412.4V1396.9M1132.5 1365.7h30M1132.5 1373.7h30M1147.5 1355.7V1365.7M1147.5 1388.7V1373.7M1133.6 1360.1h30M1133.6 1368.3h30M1148.6 1350.2V1360.1M1148.6 1383.2V1368.3M1139.3 1363.4h30M1139.3 1371.5h30M1154.3 1353.4V1363.4M1154.3 1386.4V1371.5M1147.6 1360.1h30M1147.6 1368.4h30M1162.6 1350.3V1360.1M1162.6 1383.3V1368.4M1154.4 1363h30M1154.4 1371.2h30M1169.4 1353.1V1363M1169.4 1386.1V1371.2M1164.5 1362.1h30M1164.5 1370.3h30M1179.5 1352.2V1362.1M1179.5 1385.2V1370.3M1174.7 1352.6h30M1174.7 1361.2h30M1189.7 1342.9V1352.6M1189.7 1375.9V1361.2M1183 1353.8h30M1183 1362.3h30M1198 1344.1V1353.8M1198 1377.1V1362.3M1189.8 1359h30M1189.8 1367.3h30M1204.8 1349.2V1359M1204.8 1382.2V1367.3M1198.2 1353.1h30M1198.2 1361.6h30M1213.2 1343.4V1353.1M1213.2 1376.4V1361.6M1207.6 1354.2h30M1207.6 1362.7h30M1222.6 1344.4V1354.2M1222.6 1377.4V1362.7M1216 1347.3h30M1216 1356.1h30M1231 1337.7V1347.3M1231 1370.7V1356.1M1224.3 1351h30M1224.3 1359.6h30M1239.3 1341.3V1351M1239.3 1374.3V1359.6M1234.5 1347.3h30M1234.5 1356.1h30M1249.5 1337.7V1347.3M1249.5 1370.7V1356.1M1241.2 1353.4h30M1241.2 1361.9h30M1256.2 1343.6V1353.4M1256.2 1376.6V1361.9M1251.4 1348.1h30M1251.4 1356.8h30M1266.4 1338.5V1348.1M1266.4 1371.5V1356.8M1258.2 1345h30M1258.2 1353.8h30M1273.2 1335.4V1345M1273.2 1368.4V1353.8M1268.3 1347.7h30M1268.3 1356.4h30M1283.3 1338V1347.7M1283.3 1371V1356.4M1270.6 1336.1h30M1270.6 1345.3h30M1285.6 1326.7V1336.1M1285.6 1359.7V1345.3M1278.5 1344.8h30M1278.5 1353.7h30M1293.5 1335.3V1344.8M1293.5 1368.3V1353.7M1286.8 1344.9h30M1286.8 1353.7h30M1301.8 1335.3V1344.9M1301.8 1368.3V1353.7M1297 1334.3h30M1297 1343.5h30M1312 1324.9V1334.3M1312 1357.9V1343.5M1303.3 1376.9h30M1303.3 1384.4h30M1318.3 1366.6V1376.9M1318.3 1399.6V1384.4M1305.3 1343.8h30M1305.3 1352.7h30M1320.3 1334.3V1343.8M1320.3 1367.3V1352.7M1313.7 1334.4h30M1313.7 1343.7h30M1328.7 1325V1334.4M1328.7 1358V1343.7M1317.7 1323.6h30M1317.7 1333.3h30M1332.7 1314.4V1323.6M1332.7 1347.4V1333.3M1321.1 1387.6h30M1321.1 1394.7h30M1336.1 1377.2V1387.6M1336.1 1410.2V1394.7M1323.1 1342.7h30M1323.1 1351.6h30M1338.1 1333.1V1342.7M1338.1 1366.1V1351.6M1331.2 1339.5h30M1331.2 1348.5h30M1346.2 1330V1339.5M1346.2 1363V1348.5M1331.5 1330.2h30M1331.5 1339.6h30M1346.5 1320.9V1330.2M1346.5 1353.9V1339.6M1332.8 1340.2h30M1332.8 1349.2h30M1347.8 1330.7V1340.2M1347.8 1363.7V1349.2M1334.4 1335.3h30M1334.4 1344.6h30M1349.4 1325.9V1335.3M1349.4 1358.9V1344.6M1336 1337.3h30M1336 1346.5h30M1351 1327.9V1337.3M1351 1360.9V1346.5M1337.6 1341.2h30M1337.6 1350.2h30M1352.6 1331.7V1341.2M1352.6 1364.7V1350.2M1338.9 1306.3h30M1338.9 1316.7h30M1353.9 1297.5V1306.3M1353.9 1330.5V1316.7M1339.1 1336h30M1339.1 1345.2h30M1354.1 1326.6V1336M1354.1 1359.6V1345.2M1339.8 1336.4h30M1339.8 1345.6h30M1354.8 1327V1336.4M1354.8 1360V1345.6M1340.7 1341.5h30M1340.7 1350.5h30M1355.7 1332V1341.5M1355.7 1365V1350.5M1347 1367.3h30M1347 1375.3h30M1362 1357.3V1367.3M1362 1390.3V1375.3M1348.2 1327.1h30M1348.2 1336.6h30M1363.2 1317.9V1327.1M1363.2 1350.9V1336.6M1354.9 1331.2h30M1354.9 1340.6h30M1369.9 1321.9V1331.2M1369.9 1354.9V1340.6M1364.2 1381.6h30M1364.2 1389h30M1379.2 1371.3V1381.6M1379.2 1404.3V1389M1365.1 1326.5h30M1365.1 1336.1h30M1380.1 1317.3V1326.5M1380.1 1350.3V1336.1M1375.2 1329.2h30M1375.2 1338.7h30M1390.2 1319.9V1329.2M1390.2 1352.9V1338.7M1383.1 1290.3h30M1383.1 1301.3h30M1398.1 1281.8V1290.3M1398.1 1314.8V1301.3M1384.7 1328.9h30M1384.7 1338.4h30M1399.7 1319.7V1328.9M1399.7 1352.7V1338.4M1394.9 1325.9h30M1394.9 1335.5h30M1409.9 1316.7V1325.9M1409.9 1349.7V1335.5M1403.2 1333.6h30M1403.2 1342.9h30M1418.2 1324.3V1333.6M1418.2 1357.3V1342.9M1410 1339h30M1410 1348h30M1425 1329.5V1339M1425 1362.5V1348M1419 1338.6h30M1419 1347.7h30M1434 1329.2V1338.6M1434 1362.2V1347.7M1425.8 1332.9h30M1425.8 1342.3h30M1440.8 1323.6V1332.9M1440.8 1356.6V1342.3M1430.7 1316.3h30M1430.7 1326.3h30M1445.7 1307.3V1316.3M1445.7 1340.3V1326.3M1435.7 1337.5h30M1435.7 1346.6h30M1450.7 1328.1V1337.5M1450.7 1361.1V1346.6M1443.4 1305.3h30M1443.4 1315.7h30M1458.4 1296.5V1305.3M1458.4 1329.5V1315.7M1444.7 1321.2h30M1444.7 1331h30M1459.7 1312.1V1321.2M1459.7 1345.1V1331M1451.5 1333h30M1451.5 1342.3h30M1466.5 1323.7V1333M1466.5 1356.7V1342.3M1456 1280.5h30M1456 1292h30M1471 1272.2V1280.5M1471 1305.2V1292M1458.3 1323.4h30M1458.3 1333.1h30M1473.3 1314.3V1323.4M1473.3 1347.3V1333.1M1467.3 1319.5h30M1467.3 1329.4h30M1482.3 1310.4V1319.5M1482.3 1343.4V1329.4M1475.6 1314.8h30M1475.6 1324.9h30M1490.6 1305.8V1314.8M1490.6 1338.8V1324.9M1482.4 1321.6h30M1482.4 1331.3h30M1497.4 1312.4V1321.6M1497.4 1345.4V1331.3M1487.4 1326.1h30M1487.4 1335.7h30M1502.4 1316.9V1326.1M1502.4 1349.9V1335.7M1492.3 1309h30M1492.3 1319.3h30M1507.3 1300.2V1309M1507.3 1333.2V1319.3M1494.8 1373.1h30M1494.8 1380.8h30M1509.8 1363V1373.1M1509.8 1396V1380.8M1500.7 1315h30M1500.7 1325.1h30M1515.7 1306V1315M1515.7 1339V1325.1M1505.6 1322.7h30M1505.6 1332.5h30M1520.6 1313.6V1322.7M1520.6 1346.6V1332.5M1514 1312.7h30M1514 1322.9h30M1529 1303.8V1312.7M1529 1336.8V1322.9M1517.1 1310.6h30M1517.1 1320.8h30M1532.1 1301.7V1310.6M1532.1 1334.7V1320.8M1522.3 1327.6h30M1522.3 1337.1h30M1537.3 1318.3V1327.6M1537.3 1351.3V1337.1M1530.7 1324.2h30M1530.7 1333.9h30M1545.7 1315V1324.2M1545.7 1348V1333.9M1535.6 1321.5h30M1535.6 1331.2h30M1550.6 1312.4V1321.5M1550.6 1345.4V1331.2M1540.6 1324.1h30M1540.6 1333.8h30M1555.6 1315V1324.1M1555.6 1348V1333.8M1544.7 1265.5h30M1544.7 1277.6h30M1559.7 1257.5V1265.5M1559.7 1290.5V1277.6M1545.6 1277.3h30M1545.6 1288.8h30M1560.6 1269.1V1277.3M1560.6 1302.1V1288.8M1546.5 1287.3h30M1546.5 1298.4h30M1561.5 1278.9V1287.3M1561.5 1311.9V1298.4M1547.4 1309.1h30M1547.4 1319.4h30M1562.4 1300.2V1309.1M1562.4 1333.2V1319.4M1547.4 1356.6h30M1547.4 1365h30M1562.4 1346.8V1356.6M1562.4 1379.8V1365M1554.1 1310h30M1554.1 1320.2h30M1569.1 1301.1V1310M1569.1 1334.1V1320.2M1555.7 1342.6h30M1555.7 1351.5h30M1570.7 1333V1342.6M1570.7 1366V1351.5M1562.5 1307.7h30M1562.5 1318h30M1577.5 1298.8V1307.7M1577.5 1331.8V1318M1571.5 1299.5h30M1571.5 1310.1h30M1586.5 1290.8V1299.5M1586.5 1323.8V1310.1M1578.3 1306.4h30M1578.3 1316.8h30M1593.3 1297.6V1306.4M1593.3 1330.6V1316.8M1585 1318.8h30M1585 1328.7h30M1600 1309.7V1318.8M1600 1342.7V1328.7M1594.1 1319.1h30M1594.1 1329h30M1609.1 1310.1V1319.1M1609.1 1343.1V1329M1600.8 1296.7h30M1600.8 1307.5h30M1615.8 1288.1V1296.7M1615.8 1321.1V1307.5M1607.6 1294.8h30M1607.6 1305.6h30M1622.6 1286.2V1294.8M1622.6 1319.2V1305.6M1610.5 1275.8h30M1610.5 1287.4h30M1625.5 1267.6V1275.8M1625.5 1300.6V1287.4M1613.7 1339.3h30M1613.7 1348.4h30M1628.7 1329.9V1339.3M1628.7 1362.9V1348.4M1614.4 1311.9h30M1614.4 1322h30M1629.4 1303V1311.9M1629.4 1336V1322M1622.7 1307.3h30M1622.7 1317.7h30M1637.7 1298.5V1307.3M1637.7 1331.5V1317.7M1629.5 1305.2h30M1629.5 1315.6h30M1644.5 1296.4V1305.2M1644.5 1329.4V1315.6M1638.5 1302.2h30M1638.5 1312.7h30M1653.5 1293.5V1302.2M1653.5 1326.5V1312.7M1647.5 1295.9h30M1647.5 1306.7h30M1662.5 1287.3V1295.9M1662.5 1320.3V1306.7M1648.4 1332.8h30M1648.4 1342.1h30M1663.4 1323.5V1332.8M1663.4 1356.5V1342.1M1652.5 1301.7h30M1652.5 1312.3h30M1667.5 1293V1301.7M1667.5 1326V1312.3M1656.1 1327.6h30M1656.1 1337.1h30M1671.1 1318.3V1327.6M1671.1 1351.3V1337.1M1659.3 1297.9h30M1659.3 1308.7h30M1674.3 1289.3V1297.9M1674.3 1322.3V1308.7M1666 1292.1h30M1666 1303h30M1681 1283.6V1292.1M1681 1316.6V1303M1674.4 1295.3h30M1674.4 1306.2h30M1689.4 1286.7V1295.3M1689.4 1319.7V1306.2M1679.3 1296.3h30M1679.3 1307.1h30M1694.3 1287.7V1296.3M1694.3 1320.7V1307.1M1686.1 1305.8h30M1686.1 1316.2h30M1701.1 1297V1305.8M1701.1 1330V1316.2M1691.1 1306.1h30M1691.1 1316.5h30M1706.1 1297.3V1306.1M1706.1 1330.3V1316.5M1700.1 1285.7h30M1700.1 1296.9h30M1715.1 1277.3V1285.7M1715.1 1310.3V1296.9M1702.1 1256.5h30M1702.1 1268.9h30M1717.1 1248.7V1256.5M1717.1 1281.7V1268.9M1706.9 1283.9h30M1706.9 1295.2h30M1721.9 1275.6V1283.9M1721.9 1308.6V1295.2M1711.8 1306.2h30M1711.8 1316.6h30M1726.8 1297.4V1306.2M1726.8 1330.4V1316.6M1718.6 1289.7h30M1718.6 1300.8h30M1733.6 1281.3V1289.7M1733.6 1314.3V1300.8M1723.5 1289.2h30M1723.5 1300.3h30M1738.5 1280.7V1289.2M1738.5 1313.7V1300.3M1728.5 1303.9h30M1728.5 1314.4h30M1743.5 1295.1V1303.9M1743.5 1328.1V1314.4M1737.5 1286.4h30M1737.5 1297.6h30M1752.5 1278V1286.4M1752.5 1311V1297.6M1739.6 1284.8h30M1739.6 1296h30M1754.6 1276.4V1284.8M1754.6 1309.4V1296M1740 1331.8h30M1740 1341.2h30M1755 1322.5V1331.8M1755 1355.5V1341.2M1744.3 1284.5h30M1744.3 1295.8h30M1759.3 1276.1V1284.5M1759.3 1309.1V1295.8M1749.5 1350.1h30M1749.5 1358.7h30M1764.5 1340.4V1350.1M1764.5 1373.4V1358.7M1749.9 1343.6h30M1749.9 1352.5h30M1764.9 1334V1343.6M1764.9 1367V1352.5M1750.2 1250.5h30M1750.2 1263.1h30M1765.2 1242.8V1250.5M1765.2 1275.8V1263.1M1753.3 1282.1h30M1753.3 1293.5h30M1768.3 1273.8V1282.1M1768.3 1306.8V1293.5M1758.3 1282.1h30M1758.3 1293.4h30M1773.3 1273.8V1282.1M1773.3 1306.8V1293.4M1766.6 1300.1h30M1766.6 1310.7h30M1781.6 1291.4V1300.1M1781.6 1324.4V1310.7M1773.4 1297.3h30M1773.4 1308.1h30M1788.4 1288.7V1297.3M1788.4 1321.7V1308.1M1778.4 1301h30M1778.4 1311.6h30M1793.4 1292.3V1301M1793.4 1325.3V1311.6M1783.3 1281.7h30M1783.3 1293.1h30M1798.3 1273.4V1281.7M1798.3 1306.4V1293.1M1790.1 1289.6h30M1790.1 1300.7h30M1805.1 1281.2V1289.6M1805.1 1314.2V1300.7M1796 1280.5h30M1796 1292h30M1811 1272.2V1280.5M1811 1305.2V1292M1796.9 1298.3h30M1796.9 1309h30M1811.9 1289.6V1298.3M1811.9 1322.6V1309M1801.1 1243h30M1801.1 1255.9h30M1816.1 1235.5V1243M1816.1 1268.5V1255.9M1803.6 1293.1h30M1803.6 1304h30M1818.6 1284.6V1293.1M1818.6 1317.6V1304M1810.4 1289.6h30M1810.4 1300.6h30M1825.4 1281.1V1289.6M1825.4 1314.1V1300.6M1812.7 1244h30M1812.7 1256.9h30M1827.7 1236.5V1244M1827.7 1269.5V1256.9M1815.4 1291h30M1815.4 1302h30M1830.4 1282.5V1291M1830.4 1315.5V1302M1822.1 1297.8h30M1822.1 1308.5h30M1837.1 1289.2V1297.8M1837.1 1322.2V1308.5M1828.9 1276.6h30M1828.9 1288.2h30M1843.9 1268.4V1276.6M1843.9 1301.4V1288.2M1837.9 1285.8h30M1837.9 1297h30M1852.9 1277.4V1285.8M1852.9 1310.4V1297M1844.7 1282.6h30M1844.7 1293.9h30M1859.7 1274.3V1282.6M1859.7 1307.3V1293.9M1849.6 1278.2h30M1849.6 1289.7h30M1864.6 1269.9V1278.2M1864.6 1302.9V1289.7M1851.7 1283.8h30M1851.7 1295.1h30M1866.7 1275.4V1283.8M1866.7 1308.4V1295.1M1854.6 1286.3h30M1854.6 1297.5h30M1869.6 1277.9V1286.3M1869.6 1310.9V1297.5M1859.6 1288.2h30M1859.6 1299.3h30M1874.6 1279.7V1288.2M1874.6 1312.7V1299.3M1864.5 1283.3h30M1864.5 1294.6h30M1879.5 1274.9V1283.3M1879.5 1307.9V1294.6M1871.3 1278.6h30M1871.3 1290.1h30M1886.3 1270.4V1278.6M1886.3 1303.4V1290.1M1876.3 1281.7h30M1876.3 1293.1h30M1891.3 1273.4V1281.7M1891.3 1306.4V1293.1M1883 1291h30M1883 1302h30M1898 1282.5V1291M1898 1315.5V1302M1888 1282.2h30M1888 1293.6h30M1903 1273.9V1282.2M1903 1306.9V1293.6M1892.7 1258.5h30M1892.7 1270.8h30M1907.7 1250.7V1258.5M1907.7 1283.7V1270.8M1893 1314.1h30M1893 1324.1h30M1908 1305.1V1314.1M1908 1338.1V1324.1M1894.8 1276.1h30M1894.8 1287.7h30M1909.8 1267.9V1276.1M1909.8 1300.9V1287.7M1899.7 1294h30M1899.7 1304.9h30M1914.7 1285.4V1294M1914.7 1318.4V1304.9M1908.1 1291.3h30M1908.1 1302.3h30M1923.1 1282.8V1291.3M1923.1 1315.8V1302.3M1909 1259.8h30M1909 1272h30M1924 1251.9V1259.8M1924 1284.9V1272M1914.8 1270h30M1914.8 1281.8h30M1929.8 1261.9V1270M1929.8 1294.9V1281.8M1923.9 1284.3h30M1923.9 1295.6h30M1938.9 1275.9V1284.3M1938.9 1308.9V1295.6M1932.9 1285.8h30M1932.9 1297.1h30M1947.9 1277.4V1285.8M1947.9 1310.4V1297.1M1935.8 1336.1h30M1935.8 1345.3h30M1950.8 1326.7V1336.1M1950.8 1359.7V1345.3M1937 1238h30M1937 1251.1h30M1952 1230.6V1238M1952 1263.6V1251.1" fill="none" stroke="#000" stroke-width="2.6"/>
<path d="M299.7 472V506" fill="none" stroke="#000" stroke-width="11.4"/>
</g>
<path d="M290.5 94H2095.2V1565H290.5Z" fill="none" stroke="#000" stroke-width="6" stroke-linejoin="miter"/>
<path d="M290.5 1565v28M290.5 94v28M403.3 1565v14.5M403.3 94v14.5M516.1 1565v28M516.1 94v28M628.9 1565v14.5M628.9 94v14.5M741.7 1565v28M741.7 94v28M854.5 1565v14.5M854.5 94v14.5M967.3 1565v28M967.3 94v28M1080.1 1565v14.5M1080.1 94v14.5M1192.8 1565v28M1192.8 94v28M1305.6 1565v14.5M1305.6 94v14.5M1418.4 1565v28M1418.4 94v28M1531.2 1565v14.5M1531.2 94v14.5M1644 1565v28M1644 94v28M1756.8 1565v14.5M1756.8 94v14.5M1869.6 1565v28M1869.6 94v28M1982.4 1565v14.5M1982.4 94v14.5M2095.2 1565v28M2095.2 94v28M290.5 1565h-28M2095.2 1565h28M290.5 1442.4h-14.5M2095.2 1442.4h14.5M290.5 1319.8h-28M2095.2 1319.8h28M290.5 1197.2h-14.5M2095.2 1197.2h14.5M290.5 1074.7h-28M2095.2 1074.7h28M290.5 952.1h-14.5M2095.2 952.1h14.5M290.5 829.5h-28M2095.2 829.5h28M290.5 706.9h-14.5M2095.2 706.9h14.5M290.5 584.3h-28M2095.2 584.3h28M290.5 461.8h-14.5M2095.2 461.8h14.5M290.5 339.2h-28M2095.2 339.2h28M290.5 216.6h-14.5M2095.2 216.6h14.5M290.5 94h-28M2095.2 94h28" fill="none" stroke="#000" stroke-width="6" stroke-linecap="round"/>
<g font-family="'Liberation Sans', Arial, sans-serif" fill="#000">
<text font-size="59.5" text-anchor="middle" transform="translate(290.5 1659) scale(1 1.04)">0</text>
<text font-size="59.5" text-anchor="middle" transform="translate(516.1 1659) scale(1 1.04)">10</text>
<text font-size="59.5" text-anchor="middle" transform="translate(741.7 1659) scale(1 1.04)">20</text>
<text font-size="59.5" text-anchor="middle" transform="translate(967.3 1659) scale(1 1.04)">30</text>
<text font-size="59.5" text-anchor="middle" transform="translate(1192.8 1659) scale(1 1.04)">40</text>
<text font-size="59.5" text-anchor="middle" transform="translate(1418.4 1659) scale(1 1.04)">50</text>
<text font-size="59.5" text-anchor="middle" transform="translate(1644 1659) scale(1 1.04)">60</text>
<text font-size="59.5" text-anchor="middle" transform="translate(1869.6 1659) scale(1 1.04)">70</text>
<text font-size="59.5" text-anchor="middle" transform="translate(2095.2 1659) scale(1 1.04)">80</text>
<text font-size="59.5" text-anchor="end" transform="translate(242.7 1582.7) scale(1 1.04)">0</text>
<text font-size="59.5" text-anchor="end" transform="translate(242.7 1337.5) scale(1 1.04)">10</text>
<text font-size="59.5" text-anchor="end" transform="translate(242.7 1092.4) scale(1 1.04)">20</text>
<text font-size="59.5" text-anchor="end" transform="translate(242.7 847.2) scale(1 1.04)">30</text>
<text font-size="59.5" text-anchor="end" transform="translate(242.7 602) scale(1 1.04)">40</text>
<text font-size="59.5" text-anchor="end" transform="translate(242.7 356.9) scale(1 1.04)">50</text>
<text font-size="59.5" text-anchor="end" transform="translate(242.7 111.7) scale(1 1.04)">60</text>
<text font-size="59.5" text-anchor="start" transform="translate(2142 1582.7) scale(1 1.04)">0</text>
<text font-size="59.5" text-anchor="start" transform="translate(2142 1337.5) scale(1 1.04)">10</text>
<text font-size="59.5" text-anchor="start" transform="translate(2142 1092.4) scale(1 1.04)">20</text>
<text font-size="59.5" text-anchor="start" transform="translate(2142 847.2) scale(1 1.04)">30</text>
<text font-size="59.5" text-anchor="start" transform="translate(2142 602) scale(1 1.04)">40</text>
<text font-size="59.5" text-anchor="start" transform="translate(2142 356.9) scale(1 1.04)">50</text>
<text font-size="59.5" text-anchor="start" transform="translate(2142 111.7) scale(1 1.04)">60</text>
<text font-size="73.8" text-anchor="middle" transform="translate(1192.3 1780) scale(1 1.04)">PV</text>
<text font-size="73.8" text-anchor="middle" transform="translate(108.3 879.4) rotate(-90)">Oil displacement efficiency (%)</text>
<text font-size="73.8" text-anchor="middle" transform="translate(2298.6 868.8) rotate(-90)">dP (psi)</text>
<text font-size="53.5" x="349.5" y="682.6">Waterflooding</text>
<text font-size="53.5" x="1083" y="338.1">Scleroglucan 935 mgL<tspan font-size="31" dy="-26.5" dx="-1.5">-1</tspan></text>
<text font-size="73.8" x="1918" y="214">Ef</text>
<text font-size="73.8" x="1917.5" y="305">dP</text>
</g>
<path d="M1732.5 188.8H1796.5M1834 188.8H1898" fill="none" stroke="#000" stroke-width="3" stroke-linecap="round"/>
<path d="M1815 167.8l19 33h-38z" fill="#008000"/>
<path d="M1733.5 279.5H1795.5M1835 279.5H1897" fill="none" stroke="#000" stroke-width="5.6" stroke-linecap="round"/>
<path d="M1815 260.2l16.4 29.4h-32.8z" fill="#fff" stroke="#000" stroke-width="3"/>
</svg>
</body></html>
